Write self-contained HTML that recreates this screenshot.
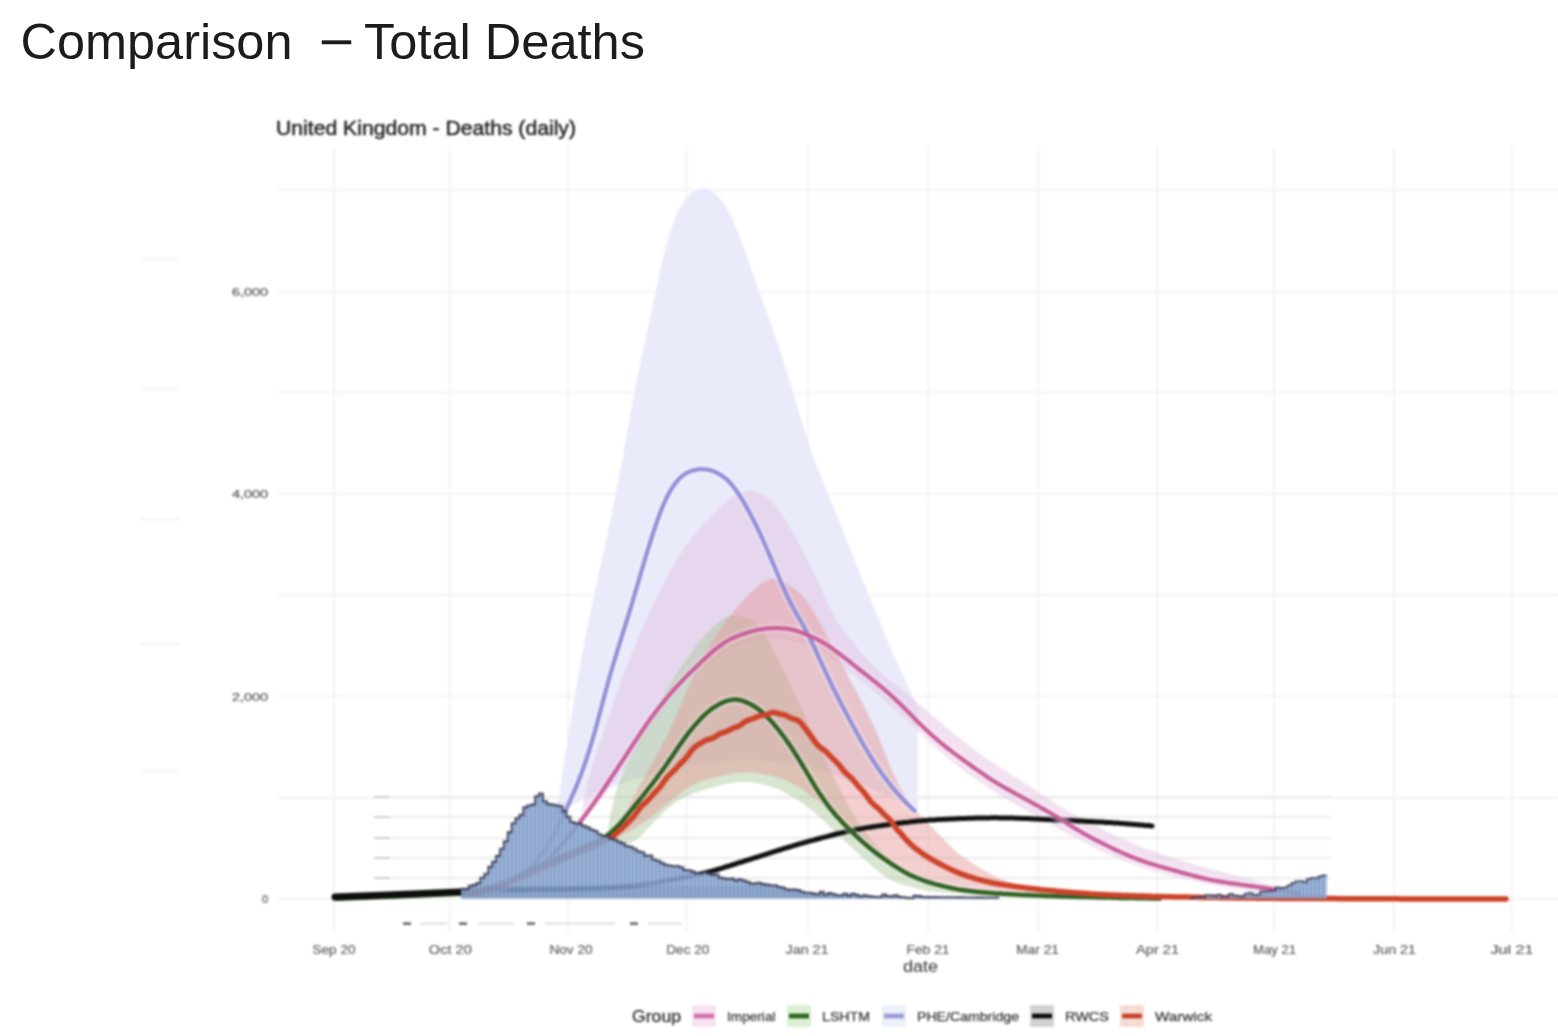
<!DOCTYPE html>
<html><head><meta charset="utf-8"><title>Comparison - Total Deaths</title>
<style>
html,body{margin:0;padding:0;background:#fff;}
body{width:1558px;height:1036px;overflow:hidden;position:relative;}
svg{position:absolute;left:0;top:0;}
svg.c{filter:blur(0.8px);}
svg text{font-family:"Liberation Sans",Arial,sans-serif;}
</style></head><body>
<svg class="c" width="1558" height="1036" viewBox="0 0 1558 1036">
<line x1="334.0" y1="146" x2="334.0" y2="933" stroke="#f3f3f3" stroke-width="2"/>
<line x1="449.5" y1="146" x2="449.5" y2="933" stroke="#f3f3f3" stroke-width="2"/>
<line x1="568.0" y1="146" x2="568.0" y2="933" stroke="#f3f3f3" stroke-width="2"/>
<line x1="686.5" y1="146" x2="686.5" y2="933" stroke="#f3f3f3" stroke-width="2"/>
<line x1="808.0" y1="146" x2="808.0" y2="933" stroke="#f3f3f3" stroke-width="2"/>
<line x1="928.5" y1="146" x2="928.5" y2="933" stroke="#f3f3f3" stroke-width="2"/>
<line x1="1038.5" y1="146" x2="1038.5" y2="933" stroke="#f3f3f3" stroke-width="2"/>
<line x1="1157.0" y1="146" x2="1157.0" y2="933" stroke="#f3f3f3" stroke-width="2"/>
<line x1="1274.0" y1="146" x2="1274.0" y2="933" stroke="#f3f3f3" stroke-width="2"/>
<line x1="1394.0" y1="146" x2="1394.0" y2="933" stroke="#f3f3f3" stroke-width="2"/>
<line x1="1511.5" y1="146" x2="1511.5" y2="933" stroke="#f3f3f3" stroke-width="2"/>
<line x1="278" y1="899.0" x2="1558" y2="899.0" stroke="#f3f3f3" stroke-width="2"/>
<line x1="278" y1="797.8" x2="1558" y2="797.8" stroke="#f3f3f3" stroke-width="2"/>
<line x1="278" y1="696.5" x2="1558" y2="696.5" stroke="#f3f3f3" stroke-width="2"/>
<line x1="278" y1="595.2" x2="1558" y2="595.2" stroke="#f3f3f3" stroke-width="2"/>
<line x1="278" y1="494.0" x2="1558" y2="494.0" stroke="#f3f3f3" stroke-width="2"/>
<line x1="278" y1="392.8" x2="1558" y2="392.8" stroke="#f3f3f3" stroke-width="2"/>
<line x1="278" y1="291.5" x2="1558" y2="291.5" stroke="#f3f3f3" stroke-width="2"/>
<line x1="278" y1="190.2" x2="1558" y2="190.2" stroke="#f3f3f3" stroke-width="2"/>
<rect x="140" y="257" width="40" height="4" fill="#f9f9f9"/>
<rect x="140" y="387" width="40" height="4" fill="#f9f9f9"/>
<rect x="140" y="517" width="40" height="4" fill="#f9f9f9"/>
<rect x="140" y="642" width="40" height="4" fill="#f9f9f9"/>
<rect x="140" y="769" width="40" height="4" fill="#f9f9f9"/>
<line x1="391" y1="797" x2="1331" y2="797" stroke="#e4e4e4" stroke-width="1.4"/>
<rect x="374" y="796.0" width="16" height="2" fill="#cfcfcf"/>
<line x1="391" y1="817" x2="1331" y2="817" stroke="#e4e4e4" stroke-width="1.4"/>
<rect x="374" y="816.0" width="16" height="2" fill="#cfcfcf"/>
<line x1="391" y1="838" x2="1331" y2="838" stroke="#e4e4e4" stroke-width="1.4"/>
<rect x="374" y="837.0" width="16" height="2" fill="#cfcfcf"/>
<line x1="391" y1="858" x2="1331" y2="858" stroke="#e4e4e4" stroke-width="1.4"/>
<rect x="374" y="857.0" width="16" height="2" fill="#cfcfcf"/>
<line x1="391" y1="878" x2="1331" y2="878" stroke="#e4e4e4" stroke-width="1.4"/>
<rect x="374" y="877.0" width="16" height="2" fill="#cfcfcf"/>
<path d="M556.0,815.0 L558.0,801.9 L560.0,788.9 L562.0,775.9 L564.0,762.9 L566.0,750.1 L568.0,737.4 L570.0,724.9 L572.0,712.6 L574.0,700.6 L576.0,688.8 L578.0,677.3 L580.0,666.2 L582.0,655.4 L584.0,644.8 L586.0,634.5 L588.0,624.5 L590.0,614.6 L592.0,604.9 L594.0,595.4 L596.0,585.9 L598.0,576.6 L600.0,567.4 L602.0,558.3 L604.0,549.3 L606.0,540.3 L608.0,531.2 L610.0,522.1 L612.0,512.7 L614.0,503.1 L616.0,493.2 L618.0,482.9 L620.0,472.2 L622.0,461.2 L624.0,450.0 L626.0,438.7 L628.0,427.4 L630.0,416.2 L632.0,405.2 L634.0,394.6 L636.0,384.3 L638.0,374.3 L640.0,364.6 L642.0,355.1 L644.0,345.7 L646.0,336.5 L648.0,327.2 L650.0,318.0 L652.0,308.7 L654.0,299.4 L656.0,290.2 L658.0,281.0 L660.0,271.9 L662.0,263.1 L664.0,254.6 L666.0,246.6 L668.0,239.2 L670.0,232.3 L672.0,226.2 L674.0,220.6 L676.0,215.7 L678.0,211.4 L680.0,207.6 L682.0,204.2 L684.0,201.2 L686.0,198.6 L688.0,196.2 L690.0,194.2 L692.0,192.4 L694.0,190.9 L696.0,189.7 L698.0,188.8 L700.0,188.2 L702.0,187.9 L704.0,187.9 L706.0,188.3 L708.0,188.9 L710.0,189.9 L712.0,191.0 L714.0,192.5 L716.0,194.2 L718.0,196.1 L720.0,198.3 L722.0,200.8 L724.0,203.7 L726.0,206.8 L728.0,210.3 L730.0,214.1 L732.0,218.2 L734.0,222.7 L736.0,227.3 L738.0,232.3 L740.0,237.4 L742.0,242.7 L744.0,248.2 L746.0,253.8 L748.0,259.6 L750.0,265.3 L752.0,271.1 L754.0,276.8 L756.0,282.5 L758.0,288.2 L760.0,293.8 L762.0,299.3 L764.0,304.8 L766.0,310.2 L768.0,315.8 L770.0,321.3 L772.0,326.9 L774.0,332.7 L776.0,338.5 L778.0,344.4 L780.0,350.5 L782.0,356.6 L784.0,362.9 L786.0,369.2 L788.0,375.7 L790.0,382.2 L792.0,388.9 L794.0,395.6 L796.0,402.3 L798.0,409.1 L800.0,415.8 L802.0,422.4 L804.0,428.8 L806.0,435.1 L808.0,441.2 L810.0,447.2 L812.0,452.9 L814.0,458.4 L816.0,463.7 L818.0,468.9 L820.0,474.0 L822.0,479.0 L824.0,484.0 L826.0,488.9 L828.0,493.8 L830.0,498.6 L832.0,503.5 L834.0,508.4 L836.0,513.2 L838.0,518.1 L840.0,523.1 L842.0,528.0 L844.0,533.0 L846.0,538.1 L848.0,543.1 L850.0,548.2 L852.0,553.3 L854.0,558.4 L856.0,563.4 L858.0,568.4 L860.0,573.4 L862.0,578.3 L864.0,583.2 L866.0,588.1 L868.0,592.9 L870.0,597.8 L872.0,602.6 L874.0,607.5 L876.0,612.4 L878.0,617.2 L880.0,622.1 L882.0,627.0 L884.0,631.9 L886.0,636.7 L888.0,641.4 L890.0,646.1 L892.0,650.7 L894.0,655.3 L896.0,659.7 L898.0,664.1 L900.0,668.5 L902.0,672.8 L904.0,677.2 L906.0,681.5 L908.0,685.9 L910.0,690.3 L912.0,694.7 L914.0,699.1 L916.0,703.5 L918.0,708.0 L918.0,812.0 L916.0,810.9 L914.0,809.8 L912.0,808.7 L910.0,807.5 L908.0,806.5 L906.0,805.4 L904.0,804.3 L902.0,803.2 L900.0,802.2 L898.0,801.1 L896.0,800.1 L894.0,799.1 L892.0,798.1 L890.0,797.1 L888.0,796.1 L886.0,795.2 L884.0,794.2 L882.0,793.3 L880.0,792.4 L878.0,791.5 L876.0,790.6 L874.0,789.7 L872.0,788.9 L870.0,788.0 L868.0,787.2 L866.0,786.4 L864.0,785.6 L862.0,784.8 L860.0,784.0 L858.0,783.3 L856.0,782.5 L854.0,781.8 L852.0,781.1 L850.0,780.3 L848.0,779.6 L846.0,778.9 L844.0,778.2 L842.0,777.5 L840.0,776.8 L838.0,776.1 L836.0,775.4 L834.0,774.8 L832.0,774.1 L830.0,773.5 L828.0,772.8 L826.0,772.2 L824.0,771.6 L822.0,771.1 L820.0,770.5 L818.0,770.0 L816.0,769.5 L814.0,769.0 L812.0,768.5 L810.0,768.0 L808.0,767.6 L806.0,767.2 L804.0,766.8 L802.0,766.4 L800.0,766.1 L798.0,765.7 L796.0,765.4 L794.0,765.1 L792.0,764.8 L790.0,764.5 L788.0,764.1 L786.0,763.9 L784.0,763.6 L782.0,763.3 L780.0,763.0 L778.0,762.7 L776.0,762.5 L774.0,762.2 L772.0,762.0 L770.0,761.7 L768.0,761.5 L766.0,761.3 L764.0,761.1 L762.0,760.9 L760.0,760.8 L758.0,760.6 L756.0,760.5 L754.0,760.4 L752.0,760.3 L750.0,760.2 L748.0,760.2 L746.0,760.1 L744.0,760.1 L742.0,760.1 L740.0,760.2 L738.0,760.2 L736.0,760.3 L734.0,760.4 L732.0,760.5 L730.0,760.7 L728.0,760.8 L726.0,761.0 L724.0,761.2 L722.0,761.4 L720.0,761.6 L718.0,761.8 L716.0,762.0 L714.0,762.2 L712.0,762.5 L710.0,762.7 L708.0,763.0 L706.0,763.2 L704.0,763.5 L702.0,763.8 L700.0,764.0 L698.0,764.3 L696.0,764.6 L694.0,764.9 L692.0,765.3 L690.0,765.6 L688.0,766.0 L686.0,766.4 L684.0,766.7 L682.0,767.2 L680.0,767.6 L678.0,768.0 L676.0,768.5 L674.0,768.9 L672.0,769.4 L670.0,769.9 L668.0,770.3 L666.0,770.8 L664.0,771.3 L662.0,771.9 L660.0,772.4 L658.0,772.9 L656.0,773.4 L654.0,774.0 L652.0,774.5 L650.0,775.0 L648.0,775.6 L646.0,776.1 L644.0,776.7 L642.0,777.3 L640.0,777.9 L638.0,778.5 L636.0,779.1 L634.0,779.7 L632.0,780.3 L630.0,781.0 L628.0,781.6 L626.0,782.3 L624.0,783.0 L622.0,783.7 L620.0,784.4 L618.0,785.1 L616.0,785.8 L614.0,786.6 L612.0,787.3 L610.0,788.1 L608.0,788.8 L606.0,789.6 L604.0,790.4 L602.0,791.3 L600.0,792.1 L598.0,792.9 L596.0,793.8 L594.0,794.7 L592.0,795.6 L590.0,796.5 L588.0,797.5 L586.0,798.5 L584.0,799.4 L582.0,800.4 L580.0,801.5 L578.0,802.5 L576.0,803.6 L574.0,804.7 L572.0,805.8 L570.0,806.9 L568.0,808.0 L566.0,809.1 L564.0,810.3 L562.0,811.5 L560.0,812.6 L558.0,813.8 L556.0,815.0 Z" fill="#e9ebfa"/>
<path d="M580.0,822.0 L582.0,811.0 L584.0,800.4 L586.0,790.5 L588.0,781.5 L590.0,773.5 L592.0,766.4 L594.0,759.9 L596.0,753.9 L598.0,748.1 L600.0,742.4 L602.0,736.6 L604.0,730.7 L606.0,724.7 L608.0,718.7 L610.0,712.8 L612.0,706.8 L614.0,701.0 L616.0,695.3 L618.0,689.6 L620.0,684.1 L622.0,678.8 L624.0,673.5 L626.0,668.3 L628.0,663.2 L630.0,658.2 L632.0,653.3 L634.0,648.4 L636.0,643.6 L638.0,638.9 L640.0,634.1 L642.0,629.5 L644.0,624.8 L646.0,620.2 L648.0,615.7 L650.0,611.2 L652.0,606.8 L654.0,602.4 L656.0,598.1 L658.0,594.0 L660.0,589.9 L662.0,585.9 L664.0,582.1 L666.0,578.4 L668.0,574.7 L670.0,571.2 L672.0,567.8 L674.0,564.4 L676.0,561.1 L678.0,557.9 L680.0,554.8 L682.0,551.8 L684.0,548.8 L686.0,545.9 L688.0,543.1 L690.0,540.4 L692.0,537.7 L694.0,535.2 L696.0,532.7 L698.0,530.4 L700.0,528.1 L702.0,525.8 L704.0,523.6 L706.0,521.5 L708.0,519.4 L710.0,517.3 L712.0,515.2 L714.0,513.1 L716.0,511.1 L718.0,509.1 L720.0,507.2 L722.0,505.3 L724.0,503.4 L726.0,501.7 L728.0,500.1 L730.0,498.5 L732.0,497.1 L734.0,495.8 L736.0,494.6 L738.0,493.6 L740.0,492.7 L742.0,492.0 L744.0,491.4 L746.0,491.0 L748.0,490.8 L750.0,490.7 L752.0,490.8 L754.0,491.0 L756.0,491.4 L758.0,492.0 L760.0,492.8 L762.0,493.8 L764.0,495.0 L766.0,496.4 L768.0,498.1 L770.0,500.0 L772.0,502.1 L774.0,504.3 L776.0,506.8 L778.0,509.4 L780.0,512.1 L782.0,515.0 L784.0,518.0 L786.0,521.1 L788.0,524.4 L790.0,527.8 L792.0,531.3 L794.0,534.9 L796.0,538.5 L798.0,542.2 L800.0,546.0 L802.0,549.8 L804.0,553.6 L806.0,557.5 L808.0,561.4 L810.0,565.4 L812.0,569.4 L814.0,573.5 L816.0,577.7 L818.0,581.9 L820.0,586.2 L822.0,590.6 L824.0,594.9 L826.0,599.2 L828.0,603.5 L830.0,607.6 L832.0,611.6 L834.0,615.4 L836.0,619.0 L838.0,622.3 L840.0,625.5 L842.0,628.4 L844.0,631.2 L846.0,633.9 L848.0,636.4 L850.0,638.9 L852.0,641.4 L854.0,643.8 L856.0,646.3 L858.0,648.7 L860.0,651.1 L862.0,653.4 L864.0,655.8 L866.0,658.0 L868.0,660.3 L870.0,662.4 L872.0,664.5 L874.0,666.5 L876.0,668.5 L878.0,670.3 L880.0,672.1 L882.0,673.8 L884.0,675.5 L886.0,677.1 L888.0,678.7 L890.0,680.3 L892.0,681.8 L894.0,683.4 L896.0,684.9 L898.0,686.5 L900.0,688.1 L902.0,689.8 L904.0,691.4 L906.0,693.1 L908.0,694.7 L910.0,696.4 L912.0,698.1 L914.0,699.8 L916.0,701.6 L918.0,703.3 L920.0,705.0 L922.0,706.7 L924.0,708.4 L926.0,710.1 L928.0,711.9 L930.0,713.6 L932.0,715.3 L934.0,716.9 L936.0,718.6 L938.0,720.3 L940.0,722.0 L942.0,723.6 L944.0,725.3 L946.0,727.0 L948.0,728.6 L950.0,730.3 L952.0,731.9 L954.0,733.6 L956.0,735.2 L958.0,736.9 L960.0,738.5 L962.0,740.1 L964.0,741.7 L966.0,743.3 L968.0,744.9 L970.0,746.4 L972.0,747.9 L974.0,749.5 L976.0,751.0 L978.0,752.4 L980.0,753.9 L982.0,755.3 L984.0,756.7 L986.0,758.1 L988.0,759.4 L990.0,760.8 L992.0,762.1 L994.0,763.4 L996.0,764.7 L998.0,766.0 L1000.0,767.3 L1002.0,768.6 L1004.0,769.8 L1006.0,771.1 L1008.0,772.4 L1010.0,773.6 L1012.0,774.9 L1014.0,776.2 L1016.0,777.5 L1018.0,778.8 L1020.0,780.0 L1022.0,781.3 L1024.0,782.7 L1026.0,784.0 L1028.0,785.3 L1030.0,786.6 L1032.0,787.9 L1034.0,789.3 L1036.0,790.6 L1038.0,791.9 L1040.0,793.2 L1042.0,794.6 L1044.0,795.9 L1046.0,797.2 L1048.0,798.5 L1050.0,799.7 L1052.0,801.0 L1054.0,802.3 L1056.0,803.5 L1058.0,804.7 L1060.0,805.9 L1062.0,807.1 L1064.0,808.3 L1066.0,809.5 L1068.0,810.7 L1070.0,811.8 L1072.0,813.0 L1074.0,814.1 L1076.0,815.2 L1078.0,816.4 L1080.0,817.5 L1082.0,818.6 L1084.0,819.7 L1086.0,820.7 L1088.0,821.8 L1090.0,822.9 L1092.0,823.9 L1094.0,824.9 L1096.0,825.9 L1098.0,827.0 L1100.0,828.0 L1102.0,828.9 L1104.0,829.9 L1106.0,830.9 L1108.0,831.8 L1110.0,832.8 L1112.0,833.7 L1114.0,834.7 L1116.0,835.6 L1118.0,836.5 L1120.0,837.5 L1122.0,838.4 L1124.0,839.3 L1126.0,840.1 L1128.0,841.0 L1130.0,841.9 L1132.0,842.7 L1134.0,843.6 L1136.0,844.4 L1138.0,845.3 L1140.0,846.1 L1142.0,846.9 L1144.0,847.7 L1146.0,848.4 L1148.0,849.2 L1150.0,849.9 L1152.0,850.7 L1154.0,851.4 L1156.0,852.1 L1158.0,852.8 L1160.0,853.5 L1162.0,854.2 L1164.0,854.9 L1166.0,855.6 L1168.0,856.2 L1170.0,856.9 L1172.0,857.5 L1174.0,858.2 L1176.0,858.8 L1178.0,859.4 L1180.0,860.1 L1182.0,860.7 L1184.0,861.3 L1186.0,861.9 L1188.0,862.5 L1190.0,863.1 L1192.0,863.7 L1194.0,864.2 L1196.0,864.8 L1198.0,865.4 L1200.0,866.0 L1202.0,866.5 L1204.0,867.1 L1206.0,867.7 L1208.0,868.2 L1210.0,868.7 L1212.0,869.3 L1214.0,869.8 L1216.0,870.3 L1218.0,870.9 L1220.0,871.4 L1222.0,871.9 L1224.0,872.4 L1226.0,872.9 L1228.0,873.4 L1230.0,873.9 L1232.0,874.4 L1234.0,874.9 L1236.0,875.4 L1238.0,875.9 L1240.0,876.5 L1242.0,877.0 L1244.0,877.5 L1246.0,878.0 L1248.0,878.5 L1250.0,879.0 L1252.0,879.5 L1254.0,880.0 L1256.0,880.6 L1258.0,881.1 L1260.0,881.6 L1262.0,882.1 L1264.0,882.6 L1266.0,883.2 L1268.0,883.7 L1270.0,884.2 L1272.0,884.7 L1274.0,885.2 L1276.0,885.8 L1278.0,886.3 L1280.0,886.8 L1282.0,887.3 L1284.0,887.8 L1286.0,888.4 L1288.0,888.9 L1290.0,889.4 L1292.0,889.9 L1294.0,890.4 L1296.0,891.0 L1298.0,891.5 L1300.0,892.0 L1300.0,897.0 L1298.0,896.8 L1296.0,896.6 L1294.0,896.4 L1292.0,896.2 L1290.0,895.9 L1288.0,895.7 L1286.0,895.5 L1284.0,895.3 L1282.0,895.0 L1280.0,894.8 L1278.0,894.6 L1276.0,894.3 L1274.0,894.1 L1272.0,893.9 L1270.0,893.6 L1268.0,893.4 L1266.0,893.1 L1264.0,892.9 L1262.0,892.6 L1260.0,892.3 L1258.0,892.1 L1256.0,891.8 L1254.0,891.6 L1252.0,891.3 L1250.0,891.0 L1248.0,890.8 L1246.0,890.5 L1244.0,890.2 L1242.0,889.9 L1240.0,889.6 L1238.0,889.3 L1236.0,889.1 L1234.0,888.8 L1232.0,888.5 L1230.0,888.2 L1228.0,887.8 L1226.0,887.5 L1224.0,887.2 L1222.0,886.9 L1220.0,886.5 L1218.0,886.2 L1216.0,885.9 L1214.0,885.5 L1212.0,885.1 L1210.0,884.8 L1208.0,884.4 L1206.0,884.0 L1204.0,883.6 L1202.0,883.1 L1200.0,882.7 L1198.0,882.3 L1196.0,881.8 L1194.0,881.4 L1192.0,880.9 L1190.0,880.4 L1188.0,879.9 L1186.0,879.5 L1184.0,879.0 L1182.0,878.5 L1180.0,878.0 L1178.0,877.5 L1176.0,877.0 L1174.0,876.5 L1172.0,876.0 L1170.0,875.5 L1168.0,875.0 L1166.0,874.5 L1164.0,873.9 L1162.0,873.4 L1160.0,872.9 L1158.0,872.3 L1156.0,871.8 L1154.0,871.2 L1152.0,870.6 L1150.0,870.0 L1148.0,869.4 L1146.0,868.8 L1144.0,868.2 L1142.0,867.6 L1140.0,866.9 L1138.0,866.2 L1136.0,865.5 L1134.0,864.8 L1132.0,864.1 L1130.0,863.4 L1128.0,862.6 L1126.0,861.8 L1124.0,861.0 L1122.0,860.2 L1120.0,859.4 L1118.0,858.5 L1116.0,857.7 L1114.0,856.8 L1112.0,855.9 L1110.0,855.0 L1108.0,854.1 L1106.0,853.2 L1104.0,852.3 L1102.0,851.3 L1100.0,850.4 L1098.0,849.4 L1096.0,848.4 L1094.0,847.4 L1092.0,846.4 L1090.0,845.4 L1088.0,844.3 L1086.0,843.3 L1084.0,842.3 L1082.0,841.2 L1080.0,840.1 L1078.0,839.1 L1076.0,838.0 L1074.0,836.9 L1072.0,835.8 L1070.0,834.7 L1068.0,833.7 L1066.0,832.6 L1064.0,831.5 L1062.0,830.4 L1060.0,829.3 L1058.0,828.2 L1056.0,827.1 L1054.0,826.0 L1052.0,824.9 L1050.0,823.8 L1048.0,822.7 L1046.0,821.6 L1044.0,820.5 L1042.0,819.4 L1040.0,818.3 L1038.0,817.2 L1036.0,816.1 L1034.0,815.0 L1032.0,813.9 L1030.0,812.8 L1028.0,811.6 L1026.0,810.5 L1024.0,809.3 L1022.0,808.2 L1020.0,807.0 L1018.0,805.9 L1016.0,804.7 L1014.0,803.5 L1012.0,802.3 L1010.0,801.1 L1008.0,799.9 L1006.0,798.7 L1004.0,797.4 L1002.0,796.2 L1000.0,795.0 L998.0,793.7 L996.0,792.4 L994.0,791.1 L992.0,789.8 L990.0,788.5 L988.0,787.2 L986.0,785.9 L984.0,784.6 L982.0,783.2 L980.0,781.9 L978.0,780.5 L976.0,779.1 L974.0,777.8 L972.0,776.4 L970.0,774.9 L968.0,773.5 L966.0,772.1 L964.0,770.6 L962.0,769.1 L960.0,767.6 L958.0,766.1 L956.0,764.6 L954.0,763.0 L952.0,761.5 L950.0,759.8 L948.0,758.2 L946.0,756.6 L944.0,754.9 L942.0,753.1 L940.0,751.4 L938.0,749.6 L936.0,747.8 L934.0,746.0 L932.0,744.1 L930.0,742.2 L928.0,740.3 L926.0,738.4 L924.0,736.5 L922.0,734.6 L920.0,732.7 L918.0,730.8 L916.0,728.9 L914.0,727.0 L912.0,725.1 L910.0,723.2 L908.0,721.4 L906.0,719.5 L904.0,717.7 L902.0,715.9 L900.0,714.1 L898.0,712.3 L896.0,710.5 L894.0,708.7 L892.0,707.0 L890.0,705.2 L888.0,703.4 L886.0,701.7 L884.0,699.9 L882.0,698.2 L880.0,696.4 L878.0,694.7 L876.0,693.0 L874.0,691.3 L872.0,689.6 L870.0,687.9 L868.0,686.2 L866.0,684.6 L864.0,682.9 L862.0,681.3 L860.0,679.7 L858.0,678.2 L856.0,676.6 L854.0,675.1 L852.0,673.5 L850.0,672.0 L848.0,670.5 L846.0,669.0 L844.0,667.5 L842.0,666.0 L840.0,664.4 L838.0,662.9 L836.0,661.5 L834.0,660.0 L832.0,658.6 L830.0,657.1 L828.0,655.8 L826.0,654.5 L824.0,653.2 L822.0,652.0 L820.0,650.9 L818.0,649.8 L816.0,648.8 L814.0,647.9 L812.0,647.1 L810.0,646.3 L808.0,645.5 L806.0,644.9 L804.0,644.2 L802.0,643.6 L800.0,643.0 L798.0,642.4 L796.0,641.9 L794.0,641.4 L792.0,640.9 L790.0,640.4 L788.0,640.0 L786.0,639.6 L784.0,639.3 L782.0,639.0 L780.0,638.8 L778.0,638.6 L776.0,638.4 L774.0,638.4 L772.0,638.3 L770.0,638.4 L768.0,638.5 L766.0,638.7 L764.0,638.9 L762.0,639.2 L760.0,639.5 L758.0,640.0 L756.0,640.4 L754.0,640.9 L752.0,641.5 L750.0,642.0 L748.0,642.7 L746.0,643.3 L744.0,644.0 L742.0,644.7 L740.0,645.4 L738.0,646.2 L736.0,647.0 L734.0,647.9 L732.0,648.8 L730.0,649.7 L728.0,650.8 L726.0,651.9 L724.0,653.1 L722.0,654.4 L720.0,655.7 L718.0,657.2 L716.0,658.7 L714.0,660.3 L712.0,661.9 L710.0,663.6 L708.0,665.3 L706.0,667.1 L704.0,668.9 L702.0,670.7 L700.0,672.5 L698.0,674.4 L696.0,676.2 L694.0,678.1 L692.0,680.0 L690.0,682.0 L688.0,684.0 L686.0,686.0 L684.0,688.1 L682.0,690.2 L680.0,692.4 L678.0,694.6 L676.0,696.8 L674.0,699.1 L672.0,701.4 L670.0,703.8 L668.0,706.2 L666.0,708.6 L664.0,711.1 L662.0,713.5 L660.0,716.1 L658.0,718.7 L656.0,721.3 L654.0,724.0 L652.0,726.8 L650.0,729.6 L648.0,732.5 L646.0,735.4 L644.0,738.4 L642.0,741.4 L640.0,744.5 L638.0,747.6 L636.0,750.7 L634.0,753.8 L632.0,756.9 L630.0,760.0 L628.0,763.0 L626.0,766.0 L624.0,768.9 L622.0,771.8 L620.0,774.6 L618.0,777.3 L616.0,780.0 L614.0,782.7 L612.0,785.2 L610.0,787.8 L608.0,790.3 L606.0,792.8 L604.0,795.2 L602.0,797.6 L600.0,800.0 L598.0,802.3 L596.0,804.6 L594.0,806.9 L592.0,809.1 L590.0,811.3 L588.0,813.5 L586.0,815.7 L584.0,817.8 L582.0,819.9 L580.0,822.0 Z" fill="#e2bfe0" fill-opacity="0.45"/>
<path d="M606.0,838.0 L608.0,827.3 L610.0,817.1 L612.0,807.6 L614.0,799.1 L616.0,791.7 L618.0,785.3 L620.0,779.8 L622.0,775.0 L624.0,770.6 L626.0,766.5 L628.0,762.4 L630.0,758.4 L632.0,754.3 L634.0,750.2 L636.0,746.1 L638.0,742.0 L640.0,737.9 L642.0,733.9 L644.0,729.9 L646.0,726.0 L648.0,722.1 L650.0,718.3 L652.0,714.6 L654.0,711.0 L656.0,707.4 L658.0,703.9 L660.0,700.4 L662.0,697.1 L664.0,693.8 L666.0,690.5 L668.0,687.3 L670.0,684.2 L672.0,681.1 L674.0,678.0 L676.0,675.0 L678.0,672.0 L680.0,669.0 L682.0,666.1 L684.0,663.1 L686.0,660.2 L688.0,657.3 L690.0,654.4 L692.0,651.6 L694.0,648.8 L696.0,646.1 L698.0,643.5 L700.0,641.0 L702.0,638.6 L704.0,636.3 L706.0,634.1 L708.0,632.0 L710.0,630.0 L712.0,628.1 L714.0,626.2 L716.0,624.4 L718.0,622.8 L720.0,621.2 L722.0,619.8 L724.0,618.6 L726.0,617.5 L728.0,616.7 L730.0,616.1 L732.0,615.6 L734.0,615.4 L736.0,615.4 L738.0,615.6 L740.0,615.9 L742.0,616.4 L744.0,616.9 L746.0,617.7 L748.0,618.5 L750.0,619.5 L752.0,620.6 L754.0,622.0 L756.0,623.6 L758.0,625.5 L760.0,627.7 L762.0,630.2 L764.0,633.1 L766.0,636.2 L768.0,639.6 L770.0,643.2 L772.0,647.0 L774.0,650.8 L776.0,654.8 L778.0,658.8 L780.0,662.9 L782.0,666.9 L784.0,671.1 L786.0,675.2 L788.0,679.5 L790.0,683.7 L792.0,688.0 L794.0,692.4 L796.0,696.7 L798.0,701.1 L800.0,705.5 L802.0,709.9 L804.0,714.3 L806.0,718.6 L808.0,723.0 L810.0,727.4 L812.0,731.7 L814.0,736.1 L816.0,740.4 L818.0,744.7 L820.0,749.0 L822.0,753.2 L824.0,757.5 L826.0,761.7 L828.0,765.8 L830.0,769.9 L832.0,774.0 L834.0,778.0 L836.0,782.0 L838.0,785.9 L840.0,789.7 L842.0,793.5 L844.0,797.3 L846.0,801.0 L848.0,804.6 L850.0,808.1 L852.0,811.6 L854.0,815.0 L856.0,818.2 L858.0,821.4 L860.0,824.5 L862.0,827.4 L864.0,830.3 L866.0,833.1 L868.0,835.7 L870.0,838.3 L872.0,840.7 L874.0,843.1 L876.0,845.3 L878.0,847.5 L880.0,849.5 L882.0,851.5 L884.0,853.3 L886.0,855.1 L888.0,856.8 L890.0,858.5 L892.0,860.1 L894.0,861.6 L896.0,863.1 L898.0,864.5 L900.0,865.8 L902.0,867.1 L904.0,868.4 L906.0,869.6 L908.0,870.7 L910.0,871.8 L912.0,872.8 L914.0,873.8 L916.0,874.8 L918.0,875.7 L920.0,876.6 L922.0,877.5 L924.0,878.4 L926.0,879.2 L928.0,880.0 L930.0,880.7 L932.0,881.5 L934.0,882.2 L936.0,882.9 L938.0,883.5 L940.0,884.2 L942.0,884.8 L944.0,885.3 L946.0,885.9 L948.0,886.4 L950.0,886.9 L952.0,887.4 L954.0,887.8 L956.0,888.3 L958.0,888.7 L960.0,889.1 L962.0,889.6 L964.0,890.0 L966.0,890.3 L968.0,890.7 L970.0,891.1 L972.0,891.4 L974.0,891.8 L976.0,892.1 L978.0,892.4 L980.0,892.7 L982.0,893.0 L984.0,893.3 L986.0,893.6 L988.0,893.8 L990.0,894.0 L992.0,894.2 L994.0,894.4 L996.0,894.6 L998.0,894.8 L1000.0,894.9 L1002.0,895.1 L1004.0,895.2 L1006.0,895.4 L1008.0,895.5 L1010.0,895.6 L1012.0,895.7 L1014.0,895.8 L1016.0,896.0 L1018.0,896.1 L1020.0,896.2 L1022.0,896.3 L1024.0,896.4 L1026.0,896.5 L1028.0,896.6 L1030.0,896.7 L1032.0,896.8 L1034.0,896.9 L1036.0,897.0 L1038.0,897.0 L1040.0,897.1 L1042.0,897.2 L1044.0,897.3 L1046.0,897.3 L1048.0,897.4 L1050.0,897.5 L1052.0,897.5 L1054.0,897.6 L1056.0,897.7 L1058.0,897.7 L1060.0,897.8 L1062.0,897.8 L1064.0,897.8 L1066.0,897.9 L1068.0,897.9 L1070.0,897.9 L1072.0,897.9 L1074.0,898.0 L1076.0,898.0 L1078.0,898.0 L1080.0,898.0 L1080.0,899.0 L1078.0,899.0 L1076.0,899.0 L1074.0,899.0 L1072.0,899.0 L1070.0,898.9 L1068.0,898.9 L1066.0,898.9 L1064.0,898.9 L1062.0,898.8 L1060.0,898.8 L1058.0,898.8 L1056.0,898.8 L1054.0,898.7 L1052.0,898.7 L1050.0,898.6 L1048.0,898.6 L1046.0,898.5 L1044.0,898.5 L1042.0,898.4 L1040.0,898.4 L1038.0,898.3 L1036.0,898.3 L1034.0,898.2 L1032.0,898.1 L1030.0,898.1 L1028.0,898.0 L1026.0,898.0 L1024.0,897.9 L1022.0,897.8 L1020.0,897.7 L1018.0,897.7 L1016.0,897.6 L1014.0,897.5 L1012.0,897.5 L1010.0,897.4 L1008.0,897.3 L1006.0,897.2 L1004.0,897.1 L1002.0,897.1 L1000.0,897.0 L998.0,896.9 L996.0,896.8 L994.0,896.7 L992.0,896.6 L990.0,896.4 L988.0,896.3 L986.0,896.2 L984.0,896.1 L982.0,895.9 L980.0,895.8 L978.0,895.6 L976.0,895.5 L974.0,895.3 L972.0,895.2 L970.0,895.0 L968.0,894.8 L966.0,894.7 L964.0,894.5 L962.0,894.3 L960.0,894.2 L958.0,894.0 L956.0,893.8 L954.0,893.7 L952.0,893.5 L950.0,893.3 L948.0,893.1 L946.0,892.9 L944.0,892.7 L942.0,892.5 L940.0,892.2 L938.0,892.0 L936.0,891.7 L934.0,891.5 L932.0,891.2 L930.0,890.9 L928.0,890.6 L926.0,890.3 L924.0,889.9 L922.0,889.5 L920.0,889.1 L918.0,888.7 L916.0,888.3 L914.0,887.8 L912.0,887.3 L910.0,886.8 L908.0,886.3 L906.0,885.7 L904.0,885.1 L902.0,884.4 L900.0,883.7 L898.0,883.0 L896.0,882.2 L894.0,881.3 L892.0,880.4 L890.0,879.4 L888.0,878.3 L886.0,877.0 L884.0,875.7 L882.0,874.3 L880.0,872.8 L878.0,871.3 L876.0,869.6 L874.0,867.9 L872.0,866.1 L870.0,864.4 L868.0,862.6 L866.0,860.8 L864.0,858.9 L862.0,857.1 L860.0,855.3 L858.0,853.4 L856.0,851.6 L854.0,849.7 L852.0,847.8 L850.0,846.0 L848.0,844.1 L846.0,842.2 L844.0,840.3 L842.0,838.4 L840.0,836.5 L838.0,834.6 L836.0,832.7 L834.0,830.8 L832.0,828.9 L830.0,827.0 L828.0,825.0 L826.0,823.1 L824.0,821.2 L822.0,819.3 L820.0,817.4 L818.0,815.6 L816.0,813.8 L814.0,812.0 L812.0,810.4 L810.0,808.8 L808.0,807.3 L806.0,805.8 L804.0,804.4 L802.0,803.0 L800.0,801.7 L798.0,800.4 L796.0,799.1 L794.0,797.9 L792.0,796.7 L790.0,795.6 L788.0,794.4 L786.0,793.3 L784.0,792.3 L782.0,791.2 L780.0,790.3 L778.0,789.3 L776.0,788.5 L774.0,787.7 L772.0,787.0 L770.0,786.3 L768.0,785.7 L766.0,785.2 L764.0,784.6 L762.0,784.2 L760.0,783.7 L758.0,783.4 L756.0,783.0 L754.0,782.7 L752.0,782.4 L750.0,782.2 L748.0,782.1 L746.0,782.0 L744.0,781.9 L742.0,782.0 L740.0,782.0 L738.0,782.2 L736.0,782.4 L734.0,782.6 L732.0,782.9 L730.0,783.3 L728.0,783.7 L726.0,784.1 L724.0,784.5 L722.0,785.0 L720.0,785.5 L718.0,786.0 L716.0,786.5 L714.0,787.0 L712.0,787.5 L710.0,788.1 L708.0,788.6 L706.0,789.2 L704.0,789.8 L702.0,790.4 L700.0,791.1 L698.0,791.8 L696.0,792.5 L694.0,793.2 L692.0,794.0 L690.0,794.9 L688.0,795.7 L686.0,796.6 L684.0,797.6 L682.0,798.6 L680.0,799.7 L678.0,800.9 L676.0,802.2 L674.0,803.6 L672.0,805.1 L670.0,806.7 L668.0,808.4 L666.0,810.2 L664.0,812.1 L662.0,814.0 L660.0,816.0 L658.0,818.0 L656.0,820.0 L654.0,822.1 L652.0,824.2 L650.0,826.3 L648.0,828.4 L646.0,830.5 L644.0,832.6 L642.0,834.6 L640.0,836.6 L638.0,838.4 L636.0,839.9 L634.0,841.3 L632.0,842.4 L630.0,843.2 L628.0,843.8 L626.0,844.1 L624.0,844.3 L622.0,844.2 L620.0,843.9 L618.0,843.5 L616.0,842.9 L614.0,842.1 L612.0,841.2 L610.0,840.2 L608.0,839.1 L606.0,838.0 Z" fill="#a9c596" fill-opacity="0.45"/>
<path d="M610.0,840.0 L612.0,836.3 L614.0,832.7 L616.0,829.0 L618.0,825.3 L620.0,821.7 L622.0,818.0 L624.0,814.3 L626.0,810.7 L628.0,807.0 L630.0,803.3 L632.0,799.7 L634.0,796.0 L636.0,792.4 L638.0,788.7 L640.0,785.1 L642.0,781.5 L644.0,777.9 L646.0,774.3 L648.0,770.7 L650.0,767.1 L652.0,763.5 L654.0,760.0 L656.0,756.3 L658.0,752.7 L660.0,749.0 L662.0,745.2 L664.0,741.4 L666.0,737.4 L668.0,733.4 L670.0,729.3 L672.0,725.0 L674.0,720.6 L676.0,716.1 L678.0,711.5 L680.0,706.9 L682.0,702.2 L684.0,697.5 L686.0,692.8 L688.0,688.2 L690.0,683.7 L692.0,679.3 L694.0,675.0 L696.0,670.8 L698.0,666.8 L700.0,662.9 L702.0,659.1 L704.0,655.5 L706.0,651.9 L708.0,648.5 L710.0,645.1 L712.0,641.8 L714.0,638.6 L716.0,635.5 L718.0,632.4 L720.0,629.5 L722.0,626.6 L724.0,623.8 L726.0,621.0 L728.0,618.4 L730.0,615.8 L732.0,613.3 L734.0,610.9 L736.0,608.5 L738.0,606.2 L740.0,604.0 L742.0,601.8 L744.0,599.7 L746.0,597.6 L748.0,595.6 L750.0,593.6 L752.0,591.6 L754.0,589.7 L756.0,587.9 L758.0,586.1 L760.0,584.5 L762.0,583.1 L764.0,581.9 L766.0,580.9 L768.0,580.1 L770.0,579.6 L772.0,579.3 L774.0,579.3 L776.0,579.5 L778.0,579.9 L780.0,580.5 L782.0,581.2 L784.0,582.1 L786.0,583.2 L788.0,584.3 L790.0,585.6 L792.0,587.0 L794.0,588.4 L796.0,590.0 L798.0,591.7 L800.0,593.6 L802.0,595.6 L804.0,597.8 L806.0,600.3 L808.0,603.0 L810.0,605.9 L812.0,609.0 L814.0,612.3 L816.0,615.8 L818.0,619.3 L820.0,623.0 L822.0,626.7 L824.0,630.4 L826.0,634.2 L828.0,637.9 L830.0,641.7 L832.0,645.4 L834.0,649.2 L836.0,653.0 L838.0,656.8 L840.0,660.6 L842.0,664.5 L844.0,668.3 L846.0,672.1 L848.0,675.9 L850.0,679.7 L852.0,683.5 L854.0,687.3 L856.0,691.0 L858.0,694.8 L860.0,698.5 L862.0,702.3 L864.0,706.2 L866.0,710.0 L868.0,714.0 L870.0,718.1 L872.0,722.3 L874.0,726.6 L876.0,731.2 L878.0,735.8 L880.0,740.7 L882.0,745.6 L884.0,750.7 L886.0,755.7 L888.0,760.8 L890.0,765.7 L892.0,770.5 L894.0,775.0 L896.0,779.3 L898.0,783.3 L900.0,787.1 L902.0,790.5 L904.0,793.8 L906.0,796.8 L908.0,799.7 L910.0,802.5 L912.0,805.1 L914.0,807.6 L916.0,810.0 L918.0,812.4 L920.0,814.7 L922.0,816.9 L924.0,819.0 L926.0,821.1 L928.0,823.2 L930.0,825.2 L932.0,827.2 L934.0,829.2 L936.0,831.2 L938.0,833.2 L940.0,835.3 L942.0,837.4 L944.0,839.5 L946.0,841.6 L948.0,843.6 L950.0,845.7 L952.0,847.6 L954.0,849.5 L956.0,851.3 L958.0,853.0 L960.0,854.6 L962.0,856.2 L964.0,857.7 L966.0,859.1 L968.0,860.4 L970.0,861.8 L972.0,863.0 L974.0,864.3 L976.0,865.5 L978.0,866.8 L980.0,868.0 L982.0,869.1 L984.0,870.3 L986.0,871.4 L988.0,872.6 L990.0,873.7 L992.0,874.7 L994.0,875.7 L996.0,876.7 L998.0,877.6 L1000.0,878.5 L1002.0,879.4 L1004.0,880.2 L1006.0,880.9 L1008.0,881.6 L1010.0,882.3 L1012.0,883.0 L1014.0,883.6 L1016.0,884.2 L1018.0,884.8 L1020.0,885.4 L1022.0,885.9 L1024.0,886.4 L1026.0,887.0 L1028.0,887.4 L1030.0,887.9 L1032.0,888.3 L1034.0,888.8 L1036.0,889.2 L1038.0,889.6 L1040.0,889.9 L1042.0,890.3 L1044.0,890.6 L1046.0,890.9 L1048.0,891.2 L1050.0,891.5 L1052.0,891.8 L1054.0,892.1 L1056.0,892.4 L1058.0,892.6 L1060.0,892.9 L1062.0,893.1 L1064.0,893.4 L1066.0,893.6 L1068.0,893.8 L1070.0,894.0 L1072.0,894.2 L1074.0,894.4 L1076.0,894.6 L1078.0,894.8 L1080.0,895.0 L1082.0,895.1 L1084.0,895.3 L1086.0,895.5 L1088.0,895.6 L1090.0,895.8 L1092.0,895.9 L1094.0,896.1 L1096.0,896.2 L1098.0,896.4 L1100.0,896.5 L1102.0,896.6 L1104.0,896.7 L1106.0,896.8 L1108.0,897.0 L1110.0,897.1 L1112.0,897.2 L1114.0,897.2 L1116.0,897.3 L1118.0,897.4 L1120.0,897.5 L1122.0,897.5 L1124.0,897.6 L1126.0,897.7 L1128.0,897.7 L1130.0,897.8 L1132.0,897.9 L1134.0,897.9 L1136.0,898.0 L1138.0,898.0 L1140.0,898.1 L1142.0,898.1 L1144.0,898.2 L1146.0,898.2 L1148.0,898.3 L1150.0,898.3 L1152.0,898.4 L1154.0,898.4 L1156.0,898.5 L1158.0,898.5 L1160.0,898.5 L1162.0,898.6 L1164.0,898.6 L1166.0,898.7 L1168.0,898.7 L1170.0,898.7 L1172.0,898.8 L1174.0,898.8 L1176.0,898.8 L1178.0,898.8 L1180.0,898.9 L1182.0,898.9 L1184.0,898.9 L1186.0,898.9 L1188.0,898.9 L1190.0,899.0 L1192.0,899.0 L1194.0,899.0 L1196.0,899.0 L1198.0,899.0 L1200.0,899.0 L1200.0,899.0 L1198.0,899.0 L1196.0,899.0 L1194.0,899.0 L1192.0,899.0 L1190.0,899.0 L1188.0,899.0 L1186.0,899.0 L1184.0,899.0 L1182.0,899.0 L1180.0,899.0 L1178.0,898.9 L1176.0,898.9 L1174.0,898.9 L1172.0,898.9 L1170.0,898.9 L1168.0,898.9 L1166.0,898.9 L1164.0,898.9 L1162.0,898.9 L1160.0,898.9 L1158.0,898.8 L1156.0,898.8 L1154.0,898.8 L1152.0,898.8 L1150.0,898.8 L1148.0,898.8 L1146.0,898.7 L1144.0,898.7 L1142.0,898.7 L1140.0,898.7 L1138.0,898.7 L1136.0,898.7 L1134.0,898.6 L1132.0,898.6 L1130.0,898.6 L1128.0,898.6 L1126.0,898.6 L1124.0,898.5 L1122.0,898.5 L1120.0,898.5 L1118.0,898.5 L1116.0,898.4 L1114.0,898.4 L1112.0,898.4 L1110.0,898.3 L1108.0,898.3 L1106.0,898.3 L1104.0,898.2 L1102.0,898.2 L1100.0,898.1 L1098.0,898.1 L1096.0,898.0 L1094.0,898.0 L1092.0,897.9 L1090.0,897.9 L1088.0,897.8 L1086.0,897.8 L1084.0,897.7 L1082.0,897.6 L1080.0,897.6 L1078.0,897.5 L1076.0,897.4 L1074.0,897.4 L1072.0,897.3 L1070.0,897.2 L1068.0,897.1 L1066.0,897.1 L1064.0,897.0 L1062.0,896.9 L1060.0,896.8 L1058.0,896.8 L1056.0,896.7 L1054.0,896.6 L1052.0,896.5 L1050.0,896.4 L1048.0,896.3 L1046.0,896.3 L1044.0,896.2 L1042.0,896.1 L1040.0,896.0 L1038.0,895.9 L1036.0,895.8 L1034.0,895.7 L1032.0,895.6 L1030.0,895.5 L1028.0,895.4 L1026.0,895.3 L1024.0,895.2 L1022.0,895.1 L1020.0,895.0 L1018.0,894.9 L1016.0,894.8 L1014.0,894.7 L1012.0,894.6 L1010.0,894.4 L1008.0,894.3 L1006.0,894.2 L1004.0,894.0 L1002.0,893.9 L1000.0,893.7 L998.0,893.6 L996.0,893.4 L994.0,893.3 L992.0,893.1 L990.0,892.9 L988.0,892.7 L986.0,892.6 L984.0,892.4 L982.0,892.1 L980.0,891.9 L978.0,891.7 L976.0,891.4 L974.0,891.2 L972.0,890.9 L970.0,890.6 L968.0,890.2 L966.0,889.9 L964.0,889.5 L962.0,889.1 L960.0,888.7 L958.0,888.3 L956.0,887.9 L954.0,887.4 L952.0,887.0 L950.0,886.5 L948.0,886.0 L946.0,885.5 L944.0,885.0 L942.0,884.4 L940.0,883.9 L938.0,883.3 L936.0,882.7 L934.0,882.1 L932.0,881.5 L930.0,880.8 L928.0,880.1 L926.0,879.4 L924.0,878.7 L922.0,877.9 L920.0,877.1 L918.0,876.3 L916.0,875.5 L914.0,874.6 L912.0,873.8 L910.0,872.9 L908.0,871.9 L906.0,871.0 L904.0,869.9 L902.0,868.9 L900.0,867.8 L898.0,866.7 L896.0,865.5 L894.0,864.3 L892.0,863.0 L890.0,861.6 L888.0,860.2 L886.0,858.7 L884.0,857.2 L882.0,855.6 L880.0,854.0 L878.0,852.3 L876.0,850.6 L874.0,848.9 L872.0,847.1 L870.0,845.4 L868.0,843.6 L866.0,841.9 L864.0,840.1 L862.0,838.4 L860.0,836.7 L858.0,834.9 L856.0,833.2 L854.0,831.5 L852.0,829.8 L850.0,828.1 L848.0,826.4 L846.0,824.7 L844.0,823.1 L842.0,821.4 L840.0,819.8 L838.0,818.1 L836.0,816.5 L834.0,814.8 L832.0,813.1 L830.0,811.4 L828.0,809.7 L826.0,807.9 L824.0,806.2 L822.0,804.5 L820.0,802.8 L818.0,801.1 L816.0,799.4 L814.0,797.8 L812.0,796.3 L810.0,794.8 L808.0,793.3 L806.0,791.9 L804.0,790.5 L802.0,789.2 L800.0,787.9 L798.0,786.7 L796.0,785.6 L794.0,784.5 L792.0,783.4 L790.0,782.4 L788.0,781.5 L786.0,780.6 L784.0,779.7 L782.0,778.9 L780.0,778.2 L778.0,777.5 L776.0,776.8 L774.0,776.3 L772.0,775.7 L770.0,775.2 L768.0,774.8 L766.0,774.4 L764.0,774.1 L762.0,773.7 L760.0,773.4 L758.0,773.2 L756.0,772.9 L754.0,772.7 L752.0,772.6 L750.0,772.4 L748.0,772.3 L746.0,772.3 L744.0,772.3 L742.0,772.4 L740.0,772.5 L738.0,772.7 L736.0,772.9 L734.0,773.2 L732.0,773.5 L730.0,773.9 L728.0,774.3 L726.0,774.7 L724.0,775.1 L722.0,775.6 L720.0,776.0 L718.0,776.5 L716.0,777.0 L714.0,777.4 L712.0,778.0 L710.0,778.5 L708.0,779.1 L706.0,779.7 L704.0,780.3 L702.0,781.0 L700.0,781.8 L698.0,782.6 L696.0,783.5 L694.0,784.5 L692.0,785.6 L690.0,786.8 L688.0,788.1 L686.0,789.4 L684.0,790.8 L682.0,792.3 L680.0,793.8 L678.0,795.3 L676.0,796.9 L674.0,798.5 L672.0,800.2 L670.0,801.8 L668.0,803.5 L666.0,805.1 L664.0,806.8 L662.0,808.4 L660.0,810.1 L658.0,811.7 L656.0,813.2 L654.0,814.8 L652.0,816.3 L650.0,817.8 L648.0,819.2 L646.0,820.7 L644.0,822.0 L642.0,823.4 L640.0,824.7 L638.0,826.0 L636.0,827.2 L634.0,828.4 L632.0,829.5 L630.0,830.6 L628.0,831.7 L626.0,832.7 L624.0,833.7 L622.0,834.7 L620.0,835.7 L618.0,836.6 L616.0,837.5 L614.0,838.3 L612.0,839.2 L610.0,840.0 Z" fill="#e49494" fill-opacity="0.45"/>
<path d="M336,899 L400,896.5 L470,893.5" fill="none" stroke="#2f6a22" stroke-width="4" stroke-linecap="round"/>
<path d="M335.0,897.0 L337.0,896.9 L339.0,896.9 L341.0,896.8 L343.0,896.7 L345.0,896.6 L347.0,896.6 L349.0,896.5 L351.0,896.4 L353.0,896.3 L355.0,896.3 L357.0,896.2 L359.0,896.1 L361.0,896.0 L363.0,895.9 L365.0,895.9 L367.0,895.8 L369.0,895.7 L371.0,895.6 L373.0,895.6 L375.0,895.5 L377.1,895.4 L379.1,895.3 L381.1,895.2 L383.1,895.2 L385.1,895.1 L387.1,895.0 L389.1,894.9 L391.1,894.9 L393.1,894.8 L395.1,894.7 L397.1,894.6 L399.1,894.5 L401.1,894.5 L403.1,894.4 L405.1,894.3 L407.1,894.2 L409.1,894.1 L411.1,894.1 L413.1,894.0 L415.1,893.9 L417.1,893.8 L419.1,893.7 L421.1,893.7 L423.1,893.6 L425.1,893.5 L427.1,893.4 L429.1,893.3 L431.1,893.2 L433.1,893.2 L435.1,893.1 L437.1,893.0 L439.1,892.9 L441.1,892.8 L443.1,892.7 L445.1,892.7 L447.1,892.6 L449.1,892.5 L451.1,892.4 L453.1,892.3 L455.1,892.2 L457.1,892.1 L459.2,892.0 L461.2,891.9 L463.2,891.8 L465.2,891.7 L467.2,891.6 L469.2,891.5 L471.2,891.4 L473.2,891.3 L475.2,891.2 L477.2,891.0 L479.2,890.9 L481.2,890.8 L483.2,890.7 L485.2,890.6 L487.2,890.5 L489.2,890.4 L491.2,890.3 L493.2,890.2 L495.2,890.2 L497.2,890.1 L499.2,890.1 L501.2,890.0 L503.2,890.0 L505.2,889.9 L507.2,889.9 L509.2,889.9 L511.2,889.8 L513.2,889.8 L515.2,889.8 L517.2,889.8 L519.2,889.7 L521.2,889.7 L523.2,889.7 L525.2,889.7 L527.2,889.7 L529.2,889.6 L531.2,889.6 L533.2,889.6 L535.2,889.6 L537.2,889.6 L539.2,889.6 L541.3,889.5 L543.3,889.5 L545.3,889.5 L547.3,889.5 L549.3,889.4 L551.3,889.4 L553.3,889.4 L555.3,889.4 L557.3,889.3 L559.3,889.3 L561.3,889.3 L563.3,889.2 L565.3,889.2 L567.3,889.1 L569.3,889.1 L571.3,889.0 L573.3,889.0 L575.3,888.9 L577.3,888.9 L579.3,888.8 L581.3,888.8 L583.3,888.7 L585.3,888.6 L587.3,888.6 L589.3,888.5 L591.3,888.4 L593.3,888.3 L595.3,888.3 L597.3,888.2 L599.3,888.1 L601.3,888.0 L603.3,887.9 L605.3,887.8 L607.3,887.7 L609.3,887.6 L611.3,887.5 L613.3,887.4 L615.3,887.3 L617.3,887.2 L619.3,887.1 L621.4,886.9 L623.4,886.8 L625.4,886.6 L627.4,886.5 L629.4,886.3 L631.4,886.1 L633.4,885.9 L635.4,885.7 L637.4,885.4 L639.4,885.2 L641.4,884.9 L643.4,884.6 L645.4,884.3 L647.4,884.0 L649.4,883.7 L651.4,883.4 L653.4,883.1 L655.4,882.8 L657.4,882.5 L659.4,882.1 L661.4,881.8 L663.4,881.4 L665.4,881.1 L667.4,880.7 L669.4,880.3 L671.4,880.0 L673.4,879.6 L675.4,879.2 L677.4,878.8 L679.4,878.4 L681.4,878.0 L683.4,877.5 L685.4,877.1 L687.4,876.7 L689.4,876.3 L691.4,875.9 L693.4,875.5 L695.4,875.1 L697.4,874.6 L699.4,874.2 L701.4,873.7 L703.5,873.3 L705.5,872.8 L707.5,872.3 L709.5,871.8 L711.5,871.2 L713.5,870.7 L715.5,870.1 L717.5,869.5 L719.5,868.9 L721.5,868.3 L723.5,867.7 L725.5,867.0 L727.5,866.4 L729.5,865.8 L731.5,865.1 L733.5,864.5 L735.5,863.9 L737.5,863.2 L739.5,862.6 L741.5,862.0 L743.5,861.4 L745.5,860.7 L747.5,860.1 L749.5,859.5 L751.5,858.9 L753.5,858.2 L755.5,857.6 L757.5,857.0 L759.5,856.3 L761.5,855.7 L763.5,855.1 L765.5,854.4 L767.5,853.8 L769.5,853.2 L771.5,852.5 L773.5,851.9 L775.5,851.2 L777.5,850.6 L779.5,850.0 L781.5,849.4 L783.5,848.7 L785.6,848.1 L787.6,847.5 L789.6,846.9 L791.6,846.3 L793.6,845.7 L795.6,845.1 L797.6,844.5 L799.6,843.9 L801.6,843.4 L803.6,842.8 L805.6,842.2 L807.6,841.7 L809.6,841.1 L811.6,840.6 L813.6,840.1 L815.6,839.5 L817.6,839.0 L819.6,838.5 L821.6,837.9 L823.6,837.4 L825.6,836.9 L827.6,836.4 L829.6,835.8 L831.6,835.3 L833.6,834.8 L835.6,834.3 L837.6,833.8 L839.6,833.3 L841.6,832.9 L843.6,832.4 L845.6,831.9 L847.6,831.5 L849.6,831.0 L851.6,830.6 L853.6,830.2 L855.6,829.8 L857.6,829.4 L859.6,829.0 L861.6,828.6 L863.6,828.3 L865.6,827.9 L867.7,827.6 L869.7,827.3 L871.7,827.0 L873.7,826.7 L875.7,826.4 L877.7,826.1 L879.7,825.8 L881.7,825.5 L883.7,825.2 L885.7,824.9 L887.7,824.7 L889.7,824.4 L891.7,824.1 L893.7,823.9 L895.7,823.6 L897.7,823.3 L899.7,823.1 L901.7,822.9 L903.7,822.6 L905.7,822.4 L907.7,822.2 L909.7,821.9 L911.7,821.7 L913.7,821.5 L915.7,821.3 L917.7,821.1 L919.7,820.9 L921.7,820.8 L923.7,820.6 L925.7,820.4 L927.7,820.3 L929.7,820.1 L931.7,820.0 L933.7,819.9 L935.7,819.8 L937.7,819.6 L939.7,819.5 L941.7,819.4 L943.7,819.3 L945.7,819.2 L947.8,819.2 L949.8,819.1 L951.8,819.0 L953.8,818.9 L955.8,818.8 L957.8,818.7 L959.8,818.6 L961.8,818.6 L963.8,818.5 L965.8,818.4 L967.8,818.3 L969.8,818.3 L971.8,818.2 L973.8,818.2 L975.8,818.1 L977.8,818.1 L979.8,818.0 L981.8,818.0 L983.8,817.9 L985.8,817.9 L987.8,817.9 L989.8,817.9 L991.8,817.8 L993.8,817.8 L995.8,817.8 L997.8,817.8 L999.8,817.9 L1001.8,817.9 L1003.8,817.9 L1005.8,817.9 L1007.8,818.0 L1009.8,818.0 L1011.8,818.1 L1013.8,818.1 L1015.8,818.2 L1017.8,818.3 L1019.8,818.3 L1021.8,818.4 L1023.8,818.5 L1025.8,818.6 L1027.8,818.6 L1029.9,818.7 L1031.9,818.8 L1033.9,818.9 L1035.9,819.0 L1037.9,819.1 L1039.9,819.2 L1041.9,819.3 L1043.9,819.4 L1045.9,819.4 L1047.9,819.5 L1049.9,819.6 L1051.9,819.7 L1053.9,819.8 L1055.9,819.9 L1057.9,820.0 L1059.9,820.1 L1061.9,820.1 L1063.9,820.2 L1065.9,820.3 L1067.9,820.4 L1069.9,820.5 L1071.9,820.6 L1073.9,820.7 L1075.9,820.8 L1077.9,820.9 L1079.9,821.0 L1081.9,821.1 L1083.9,821.2 L1085.9,821.3 L1087.9,821.4 L1089.9,821.5 L1091.9,821.6 L1093.9,821.7 L1095.9,821.8 L1097.9,821.9 L1099.9,822.0 L1101.9,822.1 L1103.9,822.2 L1105.9,822.4 L1107.9,822.5 L1109.9,822.6 L1112.0,822.7 L1114.0,822.9 L1116.0,823.0 L1118.0,823.1 L1120.0,823.3 L1122.0,823.4 L1124.0,823.6 L1126.0,823.7 L1128.0,823.9 L1130.0,824.1 L1132.0,824.2 L1134.0,824.4 L1136.0,824.6 L1138.0,824.7 L1140.0,824.9 L1142.0,825.1 L1144.0,825.3 L1146.0,825.4 L1148.0,825.6 L1150.0,825.8 L1152.0,826.0" fill="none" stroke="#111" stroke-width="5" stroke-linecap="round"/>
<path d="M335,897 L400,894.5 L470,891.5" fill="none" stroke="#0d0f0d" stroke-width="7" stroke-linecap="round"/>
<path d="M470.0,895.0 L472.0,894.8 L474.0,894.5 L476.0,894.3 L478.0,893.9 L480.0,893.6 L482.0,893.2 L484.0,892.7 L486.0,892.3 L488.0,891.7 L490.0,891.1 L492.0,890.5 L494.0,889.9 L496.0,889.2 L498.0,888.5 L500.0,887.7 L502.1,886.9 L504.1,885.9 L506.1,885.0 L508.1,883.9 L510.1,882.8 L512.1,881.6 L514.1,880.3 L516.1,878.9 L518.1,877.5 L520.1,876.0 L522.1,874.4 L524.1,872.8 L526.1,871.1 L528.1,869.3 L530.1,867.4 L532.1,865.5 L534.1,863.4 L536.1,861.2 L538.1,858.9 L540.1,856.4 L542.1,853.8 L544.1,851.0 L546.1,848.0 L548.1,844.8 L550.1,841.4 L552.1,837.8 L554.1,834.0 L556.1,830.0 L558.1,826.0 L560.1,821.8 L562.1,817.6 L564.1,813.4 L566.2,809.1 L568.2,804.8 L570.2,800.4 L572.2,795.9 L574.2,791.3 L576.2,786.6 L578.2,781.7 L580.2,776.5 L582.2,771.2 L584.2,765.6 L586.2,759.8 L588.2,753.6 L590.2,747.2 L592.2,740.6 L594.2,733.6 L596.2,726.5 L598.2,719.1 L600.2,711.6 L602.2,704.1 L604.2,696.6 L606.2,689.2 L608.2,681.9 L610.2,674.8 L612.2,667.9 L614.2,661.2 L616.2,654.6 L618.2,648.1 L620.2,641.6 L622.2,635.2 L624.2,628.8 L626.2,622.3 L628.2,615.8 L630.3,609.1 L632.3,602.4 L634.3,595.7 L636.3,588.9 L638.3,582.0 L640.3,575.2 L642.3,568.4 L644.3,561.7 L646.3,555.0 L648.3,548.4 L650.3,542.0 L652.3,535.7 L654.3,529.5 L656.3,523.6 L658.3,517.9 L660.3,512.5 L662.3,507.4 L664.3,502.8 L666.3,498.4 L668.3,494.5 L670.3,490.9 L672.3,487.7 L674.3,484.7 L676.3,482.1 L678.3,479.8 L680.3,477.7 L682.3,475.9 L684.3,474.4 L686.3,473.2 L688.3,472.1 L690.3,471.3 L692.4,470.6 L694.4,470.1 L696.4,469.7 L698.4,469.4 L700.4,469.2 L702.4,469.2 L704.4,469.3 L706.4,469.5 L708.4,469.8 L710.4,470.3 L712.4,470.9 L714.4,471.7 L716.4,472.6 L718.4,473.6 L720.4,474.7 L722.4,476.1 L724.4,477.6 L726.4,479.2 L728.4,481.1 L730.4,483.2 L732.4,485.5 L734.4,488.1 L736.4,490.8 L738.4,493.7 L740.4,496.8 L742.4,500.0 L744.4,503.4 L746.4,506.9 L748.4,510.5 L750.4,514.2 L752.4,518.1 L754.4,522.0 L756.5,526.1 L758.5,530.4 L760.5,534.7 L762.5,539.1 L764.5,543.6 L766.5,548.1 L768.5,552.7 L770.5,557.4 L772.5,562.1 L774.5,566.8 L776.5,571.5 L778.5,576.3 L780.5,581.0 L782.5,585.6 L784.5,590.1 L786.5,594.5 L788.5,598.7 L790.5,602.7 L792.5,606.5 L794.5,610.2 L796.5,613.7 L798.5,617.2 L800.5,620.7 L802.5,624.2 L804.5,627.8 L806.5,631.5 L808.5,635.4 L810.5,639.5 L812.5,643.7 L814.5,648.0 L816.5,652.3 L818.5,656.8 L820.6,661.2 L822.6,665.6 L824.6,669.9 L826.6,674.2 L828.6,678.4 L830.6,682.6 L832.6,686.8 L834.6,690.8 L836.6,694.8 L838.6,698.8 L840.6,702.7 L842.6,706.5 L844.6,710.3 L846.6,714.1 L848.6,717.8 L850.6,721.5 L852.6,725.2 L854.6,728.9 L856.6,732.5 L858.6,736.1 L860.6,739.7 L862.6,743.2 L864.6,746.6 L866.6,750.0 L868.6,753.4 L870.6,756.6 L872.6,759.8 L874.6,762.9 L876.6,766.0 L878.6,769.0 L880.6,771.9 L882.6,774.7 L884.7,777.4 L886.7,780.1 L888.7,782.7 L890.7,785.2 L892.7,787.7 L894.7,790.1 L896.7,792.4 L898.7,794.7 L900.7,796.9 L902.7,799.1 L904.7,801.2 L906.7,803.2 L908.7,805.2 L910.7,807.2 L912.7,809.1 L914.7,811.0" fill="none" stroke="#fff" stroke-opacity="0.3" stroke-width="9.0" stroke-linecap="round"/>
<path d="M470.0,895.0 L472.0,894.6 L474.0,894.2 L476.0,893.8 L478.0,893.3 L480.0,892.9 L482.0,892.4 L484.0,891.9 L486.0,891.3 L488.0,890.8 L490.0,890.2 L492.0,889.6 L494.0,888.9 L496.0,888.3 L498.0,887.6 L500.0,886.8 L502.0,886.1 L504.0,885.3 L506.0,884.5 L508.0,883.6 L510.0,882.7 L512.0,881.8 L514.0,880.8 L516.0,879.8 L518.0,878.8 L520.0,877.7 L522.0,876.6 L524.0,875.4 L526.0,874.3 L528.0,873.1 L530.0,871.8 L532.0,870.6 L534.0,869.2 L536.0,867.9 L538.0,866.5 L540.0,865.0 L542.0,863.6 L544.0,862.0 L546.0,860.4 L548.0,858.8 L550.0,857.1 L552.0,855.3 L554.0,853.4 L556.0,851.5 L558.0,849.4 L560.0,847.3 L562.0,845.0 L564.0,842.7 L566.0,840.2 L568.0,837.7 L570.0,835.1 L572.0,832.5 L574.0,829.9 L576.0,827.2 L578.0,824.6 L580.0,822.0 L582.0,819.4 L584.0,816.8 L586.0,814.2 L588.0,811.5 L590.0,808.8 L592.0,806.0 L594.0,803.2 L596.0,800.3 L598.0,797.4 L600.0,794.5 L602.0,791.5 L604.0,788.5 L606.0,785.5 L608.0,782.5 L610.0,779.5 L612.0,776.5 L614.0,773.5 L616.0,770.5 L618.0,767.5 L620.0,764.4 L622.0,761.4 L624.0,758.3 L626.0,755.3 L628.0,752.2 L630.0,749.1 L632.0,746.0 L634.0,743.0 L636.0,739.9 L638.0,736.8 L640.0,733.8 L642.0,730.8 L644.0,727.9 L646.0,725.0 L648.0,722.1 L650.0,719.3 L652.0,716.6 L654.0,713.9 L656.0,711.3 L658.0,708.7 L660.0,706.2 L662.0,703.7 L664.0,701.3 L666.0,698.9 L668.0,696.5 L670.0,694.2 L672.0,691.9 L674.0,689.6 L676.0,687.4 L678.0,685.2 L680.0,683.1 L682.0,681.0 L684.0,678.9 L686.0,676.8 L688.0,674.8 L690.0,672.8 L692.0,670.9 L694.0,668.9 L696.0,667.0 L698.0,665.1 L700.0,663.2 L702.0,661.3 L704.0,659.4 L706.0,657.6 L708.0,655.7 L710.0,653.9 L712.0,652.1 L714.0,650.4 L716.0,648.8 L718.0,647.2 L720.0,645.7 L722.0,644.2 L724.0,642.9 L726.0,641.6 L728.0,640.5 L730.0,639.4 L732.0,638.4 L734.0,637.5 L736.0,636.7 L738.0,635.9 L740.0,635.1 L742.0,634.4 L744.0,633.7 L746.0,633.0 L748.0,632.4 L750.0,631.8 L752.0,631.3 L754.0,630.7 L756.0,630.3 L758.0,629.8 L760.0,629.4 L762.0,629.1 L764.0,628.8 L766.0,628.6 L768.0,628.4 L770.0,628.3 L772.0,628.2 L774.0,628.2 L776.0,628.2 L778.0,628.2 L780.0,628.2 L782.0,628.3 L784.0,628.5 L786.0,628.7 L788.0,628.9 L790.0,629.2 L792.0,629.6 L794.0,630.1 L796.0,630.7 L798.0,631.3 L800.0,632.0 L802.0,632.7 L804.0,633.5 L806.0,634.3 L808.0,635.2 L810.0,636.0 L812.0,636.9 L814.0,637.8 L816.0,638.8 L818.0,639.8 L820.0,640.8 L822.0,641.9 L824.0,643.1 L826.0,644.3 L828.0,645.6 L830.0,646.9 L832.0,648.3 L834.0,649.7 L836.0,651.2 L838.0,652.7 L840.0,654.2 L842.0,655.7 L844.0,657.2 L846.0,658.8 L848.0,660.4 L850.0,662.0 L852.0,663.6 L854.0,665.2 L856.0,666.8 L858.0,668.4 L860.0,670.0 L862.0,671.5 L864.0,673.1 L866.0,674.7 L868.0,676.2 L870.0,677.8 L872.0,679.4 L874.0,680.9 L876.0,682.5 L878.0,684.1 L880.0,685.8 L882.0,687.4 L884.0,689.1 L886.0,690.9 L888.0,692.6 L890.0,694.4 L892.0,696.2 L894.0,698.1 L896.0,700.0 L898.0,701.9 L900.0,703.8 L902.0,705.8 L904.0,707.8 L906.0,709.8 L908.0,711.8 L910.0,713.8 L912.0,715.9 L914.0,717.9 L916.0,719.9 L918.0,721.9 L920.0,723.9 L922.0,725.8 L924.0,727.8 L926.0,729.7 L928.0,731.5 L930.0,733.4 L932.0,735.2 L934.0,737.0 L936.0,738.7 L938.0,740.5 L940.0,742.1 L942.0,743.8 L944.0,745.4 L946.0,747.0 L948.0,748.5 L950.0,750.1 L952.0,751.6 L954.0,753.1 L956.0,754.6 L958.0,756.1 L960.0,757.6 L962.0,759.0 L964.0,760.5 L966.0,762.0 L968.0,763.4 L970.0,764.8 L972.0,766.3 L974.0,767.7 L976.0,769.1 L978.0,770.5 L980.0,771.9 L982.0,773.3 L984.0,774.7 L986.0,776.0 L988.0,777.4 L990.0,778.7 L992.0,780.0 L994.0,781.2 L996.0,782.5 L998.0,783.7 L1000.0,784.9 L1002.0,786.0 L1004.0,787.2 L1006.0,788.3 L1008.0,789.4 L1010.0,790.6 L1012.0,791.7 L1014.0,792.8 L1016.0,793.9 L1018.0,795.0 L1020.0,796.1 L1022.0,797.2 L1024.0,798.3 L1026.0,799.4 L1028.0,800.5 L1030.0,801.6 L1032.0,802.7 L1034.0,803.8 L1036.0,804.9 L1038.0,806.0 L1040.0,807.2 L1042.0,808.3 L1044.0,809.4 L1046.0,810.5 L1048.0,811.7 L1050.0,812.8 L1052.0,814.0 L1054.0,815.2 L1056.0,816.4 L1058.0,817.6 L1060.0,818.9 L1062.0,820.1 L1064.0,821.4 L1066.0,822.6 L1068.0,823.9 L1070.0,825.2 L1072.0,826.4 L1074.0,827.7 L1076.0,828.9 L1078.0,830.1 L1080.0,831.3 L1082.0,832.5 L1084.0,833.6 L1086.0,834.8 L1088.0,835.9 L1090.0,837.0 L1092.0,838.0 L1094.0,839.1 L1096.0,840.2 L1098.0,841.2 L1100.0,842.2 L1102.0,843.2 L1104.0,844.2 L1106.0,845.2 L1108.0,846.2 L1110.0,847.1 L1112.0,848.1 L1114.0,849.0 L1116.0,850.0 L1118.0,850.9 L1120.0,851.8 L1122.0,852.7 L1124.0,853.6 L1126.0,854.5 L1128.0,855.3 L1130.0,856.2 L1132.0,857.0 L1134.0,857.8 L1136.0,858.6 L1138.0,859.3 L1140.0,860.1 L1142.0,860.8 L1144.0,861.5 L1146.0,862.2 L1148.0,862.8 L1150.0,863.4 L1152.0,864.1 L1154.0,864.7 L1156.0,865.3 L1158.0,865.9 L1160.0,866.5 L1162.0,867.0 L1164.0,867.6 L1166.0,868.2 L1168.0,868.7 L1170.0,869.3 L1172.0,869.8 L1174.0,870.4 L1176.0,870.9 L1178.0,871.5 L1180.0,872.0 L1182.0,872.6 L1184.0,873.1 L1186.0,873.7 L1188.0,874.2 L1190.0,874.8 L1192.0,875.3 L1194.0,875.9 L1196.0,876.4 L1198.0,876.9 L1200.0,877.4 L1202.0,877.9 L1204.0,878.4 L1206.0,878.8 L1208.0,879.3 L1210.0,879.7 L1212.0,880.1 L1214.0,880.5 L1216.0,880.9 L1218.0,881.2 L1220.0,881.5 L1222.0,881.9 L1224.0,882.2 L1226.0,882.5 L1228.0,882.8 L1230.0,883.1 L1232.0,883.4 L1234.0,883.7 L1236.0,883.9 L1238.0,884.2 L1240.0,884.5 L1242.0,884.8 L1244.0,885.0 L1246.0,885.3 L1248.0,885.6 L1250.0,885.8 L1252.0,886.1 L1254.0,886.4 L1256.0,886.7 L1258.0,887.0 L1260.0,887.3 L1262.0,887.6 L1264.0,887.9 L1266.0,888.2 L1268.0,888.5 L1270.0,888.8 L1272.0,889.2 L1274.0,889.5 L1276.0,889.8 L1278.0,890.2 L1280.0,890.5 L1282.0,890.8 L1284.0,891.2 L1286.0,891.5 L1288.0,891.9 L1290.0,892.2 L1292.0,892.6 L1294.0,892.9 L1296.0,893.3 L1298.0,893.6 L1300.0,894.0" fill="none" stroke="#fff" stroke-opacity="0.3" stroke-width="9.0" stroke-linecap="round"/>
<path d="M470.0,895.0 L472.0,894.8 L474.0,894.5 L476.0,894.3 L478.0,893.9 L480.0,893.6 L482.0,893.2 L484.0,892.7 L486.0,892.3 L488.0,891.7 L490.0,891.1 L492.0,890.5 L494.0,889.9 L496.0,889.2 L498.0,888.5 L500.0,887.7 L502.1,886.9 L504.1,885.9 L506.1,885.0 L508.1,883.9 L510.1,882.8 L512.1,881.6 L514.1,880.3 L516.1,878.9 L518.1,877.5 L520.1,876.0 L522.1,874.4 L524.1,872.8 L526.1,871.1 L528.1,869.3 L530.1,867.4 L532.1,865.5 L534.1,863.4 L536.1,861.2 L538.1,858.9 L540.1,856.4 L542.1,853.8 L544.1,851.0 L546.1,848.0 L548.1,844.8 L550.1,841.4 L552.1,837.8 L554.1,834.0 L556.1,830.0 L558.1,826.0 L560.1,821.8 L562.1,817.6 L564.1,813.4 L566.2,809.1 L568.2,804.8 L570.2,800.4 L572.2,795.9 L574.2,791.3 L576.2,786.6 L578.2,781.7 L580.2,776.5 L582.2,771.2 L584.2,765.6 L586.2,759.8 L588.2,753.6 L590.2,747.2 L592.2,740.6 L594.2,733.6 L596.2,726.5 L598.2,719.1 L600.2,711.6 L602.2,704.1 L604.2,696.6 L606.2,689.2 L608.2,681.9 L610.2,674.8 L612.2,667.9 L614.2,661.2 L616.2,654.6 L618.2,648.1 L620.2,641.6 L622.2,635.2 L624.2,628.8 L626.2,622.3 L628.2,615.8 L630.3,609.1 L632.3,602.4 L634.3,595.7 L636.3,588.9 L638.3,582.0 L640.3,575.2 L642.3,568.4 L644.3,561.7 L646.3,555.0 L648.3,548.4 L650.3,542.0 L652.3,535.7 L654.3,529.5 L656.3,523.6 L658.3,517.9 L660.3,512.5 L662.3,507.4 L664.3,502.8 L666.3,498.4 L668.3,494.5 L670.3,490.9 L672.3,487.7 L674.3,484.7 L676.3,482.1 L678.3,479.8 L680.3,477.7 L682.3,475.9 L684.3,474.4 L686.3,473.2 L688.3,472.1 L690.3,471.3 L692.4,470.6 L694.4,470.1 L696.4,469.7 L698.4,469.4 L700.4,469.2 L702.4,469.2 L704.4,469.3 L706.4,469.5 L708.4,469.8 L710.4,470.3 L712.4,470.9 L714.4,471.7 L716.4,472.6 L718.4,473.6 L720.4,474.7 L722.4,476.1 L724.4,477.6 L726.4,479.2 L728.4,481.1 L730.4,483.2 L732.4,485.5 L734.4,488.1 L736.4,490.8 L738.4,493.7 L740.4,496.8 L742.4,500.0 L744.4,503.4 L746.4,506.9 L748.4,510.5 L750.4,514.2 L752.4,518.1 L754.4,522.0 L756.5,526.1 L758.5,530.4 L760.5,534.7 L762.5,539.1 L764.5,543.6 L766.5,548.1 L768.5,552.7 L770.5,557.4 L772.5,562.1 L774.5,566.8 L776.5,571.5 L778.5,576.3 L780.5,581.0 L782.5,585.6 L784.5,590.1 L786.5,594.5 L788.5,598.7 L790.5,602.7 L792.5,606.5 L794.5,610.2 L796.5,613.7 L798.5,617.2 L800.5,620.7 L802.5,624.2 L804.5,627.8 L806.5,631.5 L808.5,635.4 L810.5,639.5 L812.5,643.7 L814.5,648.0 L816.5,652.3 L818.5,656.8 L820.6,661.2 L822.6,665.6 L824.6,669.9 L826.6,674.2 L828.6,678.4 L830.6,682.6 L832.6,686.8 L834.6,690.8 L836.6,694.8 L838.6,698.8 L840.6,702.7 L842.6,706.5 L844.6,710.3 L846.6,714.1 L848.6,717.8 L850.6,721.5 L852.6,725.2 L854.6,728.9 L856.6,732.5 L858.6,736.1 L860.6,739.7 L862.6,743.2 L864.6,746.6 L866.6,750.0 L868.6,753.4 L870.6,756.6 L872.6,759.8 L874.6,762.9 L876.6,766.0 L878.6,769.0 L880.6,771.9 L882.6,774.7 L884.7,777.4 L886.7,780.1 L888.7,782.7 L890.7,785.2 L892.7,787.7 L894.7,790.1 L896.7,792.4 L898.7,794.7 L900.7,796.9 L902.7,799.1 L904.7,801.2 L906.7,803.2 L908.7,805.2 L910.7,807.2 L912.7,809.1 L914.7,811.0" fill="none" stroke="#918ed8" stroke-width="4.2" stroke-linecap="round"/>
<path d="M470.0,895.0 L472.0,894.6 L474.0,894.2 L476.0,893.8 L478.0,893.3 L480.0,892.9 L482.0,892.4 L484.0,891.9 L486.0,891.3 L488.0,890.8 L490.0,890.2 L492.0,889.6 L494.0,888.9 L496.0,888.3 L498.0,887.6 L500.0,886.8 L502.0,886.1 L504.0,885.3 L506.0,884.5 L508.0,883.6 L510.0,882.7 L512.0,881.8 L514.0,880.8 L516.0,879.8 L518.0,878.8 L520.0,877.7 L522.0,876.6 L524.0,875.4 L526.0,874.3 L528.0,873.1 L530.0,871.8 L532.0,870.6 L534.0,869.2 L536.0,867.9 L538.0,866.5 L540.0,865.0 L542.0,863.6 L544.0,862.0 L546.0,860.4 L548.0,858.8 L550.0,857.1 L552.0,855.3 L554.0,853.4 L556.0,851.5 L558.0,849.4 L560.0,847.3 L562.0,845.0 L564.0,842.7 L566.0,840.2 L568.0,837.7 L570.0,835.1 L572.0,832.5 L574.0,829.9 L576.0,827.2 L578.0,824.6 L580.0,822.0 L582.0,819.4 L584.0,816.8 L586.0,814.2 L588.0,811.5 L590.0,808.8 L592.0,806.0 L594.0,803.2 L596.0,800.3 L598.0,797.4 L600.0,794.5 L602.0,791.5 L604.0,788.5 L606.0,785.5 L608.0,782.5 L610.0,779.5 L612.0,776.5 L614.0,773.5 L616.0,770.5 L618.0,767.5 L620.0,764.4 L622.0,761.4 L624.0,758.3 L626.0,755.3 L628.0,752.2 L630.0,749.1 L632.0,746.0 L634.0,743.0 L636.0,739.9 L638.0,736.8 L640.0,733.8 L642.0,730.8 L644.0,727.9 L646.0,725.0 L648.0,722.1 L650.0,719.3 L652.0,716.6 L654.0,713.9 L656.0,711.3 L658.0,708.7 L660.0,706.2 L662.0,703.7 L664.0,701.3 L666.0,698.9 L668.0,696.5 L670.0,694.2 L672.0,691.9 L674.0,689.6 L676.0,687.4 L678.0,685.2 L680.0,683.1 L682.0,681.0 L684.0,678.9 L686.0,676.8 L688.0,674.8 L690.0,672.8 L692.0,670.9 L694.0,668.9 L696.0,667.0 L698.0,665.1 L700.0,663.2 L702.0,661.3 L704.0,659.4 L706.0,657.6 L708.0,655.7 L710.0,653.9 L712.0,652.1 L714.0,650.4 L716.0,648.8 L718.0,647.2 L720.0,645.7 L722.0,644.2 L724.0,642.9 L726.0,641.6 L728.0,640.5 L730.0,639.4 L732.0,638.4 L734.0,637.5 L736.0,636.7 L738.0,635.9 L740.0,635.1 L742.0,634.4 L744.0,633.7 L746.0,633.0 L748.0,632.4 L750.0,631.8 L752.0,631.3 L754.0,630.7 L756.0,630.3 L758.0,629.8 L760.0,629.4 L762.0,629.1 L764.0,628.8 L766.0,628.6 L768.0,628.4 L770.0,628.3 L772.0,628.2 L774.0,628.2 L776.0,628.2 L778.0,628.2 L780.0,628.2 L782.0,628.3 L784.0,628.5 L786.0,628.7 L788.0,628.9 L790.0,629.2 L792.0,629.6 L794.0,630.1 L796.0,630.7 L798.0,631.3 L800.0,632.0 L802.0,632.7 L804.0,633.5 L806.0,634.3 L808.0,635.2 L810.0,636.0 L812.0,636.9 L814.0,637.8 L816.0,638.8 L818.0,639.8 L820.0,640.8 L822.0,641.9 L824.0,643.1 L826.0,644.3 L828.0,645.6 L830.0,646.9 L832.0,648.3 L834.0,649.7 L836.0,651.2 L838.0,652.7 L840.0,654.2 L842.0,655.7 L844.0,657.2 L846.0,658.8 L848.0,660.4 L850.0,662.0 L852.0,663.6 L854.0,665.2 L856.0,666.8 L858.0,668.4 L860.0,670.0 L862.0,671.5 L864.0,673.1 L866.0,674.7 L868.0,676.2 L870.0,677.8 L872.0,679.4 L874.0,680.9 L876.0,682.5 L878.0,684.1 L880.0,685.8 L882.0,687.4 L884.0,689.1 L886.0,690.9 L888.0,692.6 L890.0,694.4 L892.0,696.2 L894.0,698.1 L896.0,700.0 L898.0,701.9 L900.0,703.8 L902.0,705.8 L904.0,707.8 L906.0,709.8 L908.0,711.8 L910.0,713.8 L912.0,715.9 L914.0,717.9 L916.0,719.9 L918.0,721.9 L920.0,723.9 L922.0,725.8 L924.0,727.8 L926.0,729.7 L928.0,731.5 L930.0,733.4 L932.0,735.2 L934.0,737.0 L936.0,738.7 L938.0,740.5 L940.0,742.1 L942.0,743.8 L944.0,745.4 L946.0,747.0 L948.0,748.5 L950.0,750.1 L952.0,751.6 L954.0,753.1 L956.0,754.6 L958.0,756.1 L960.0,757.6 L962.0,759.0 L964.0,760.5 L966.0,762.0 L968.0,763.4 L970.0,764.8 L972.0,766.3 L974.0,767.7 L976.0,769.1 L978.0,770.5 L980.0,771.9 L982.0,773.3 L984.0,774.7 L986.0,776.0 L988.0,777.4 L990.0,778.7 L992.0,780.0 L994.0,781.2 L996.0,782.5 L998.0,783.7 L1000.0,784.9 L1002.0,786.0 L1004.0,787.2 L1006.0,788.3 L1008.0,789.4 L1010.0,790.6 L1012.0,791.7 L1014.0,792.8 L1016.0,793.9 L1018.0,795.0 L1020.0,796.1 L1022.0,797.2 L1024.0,798.3 L1026.0,799.4 L1028.0,800.5 L1030.0,801.6 L1032.0,802.7 L1034.0,803.8 L1036.0,804.9 L1038.0,806.0 L1040.0,807.2 L1042.0,808.3 L1044.0,809.4 L1046.0,810.5 L1048.0,811.7 L1050.0,812.8 L1052.0,814.0 L1054.0,815.2 L1056.0,816.4 L1058.0,817.6 L1060.0,818.9 L1062.0,820.1 L1064.0,821.4 L1066.0,822.6 L1068.0,823.9 L1070.0,825.2 L1072.0,826.4 L1074.0,827.7 L1076.0,828.9 L1078.0,830.1 L1080.0,831.3 L1082.0,832.5 L1084.0,833.6 L1086.0,834.8 L1088.0,835.9 L1090.0,837.0 L1092.0,838.0 L1094.0,839.1 L1096.0,840.2 L1098.0,841.2 L1100.0,842.2 L1102.0,843.2 L1104.0,844.2 L1106.0,845.2 L1108.0,846.2 L1110.0,847.1 L1112.0,848.1 L1114.0,849.0 L1116.0,850.0 L1118.0,850.9 L1120.0,851.8 L1122.0,852.7 L1124.0,853.6 L1126.0,854.5 L1128.0,855.3 L1130.0,856.2 L1132.0,857.0 L1134.0,857.8 L1136.0,858.6 L1138.0,859.3 L1140.0,860.1 L1142.0,860.8 L1144.0,861.5 L1146.0,862.2 L1148.0,862.8 L1150.0,863.4 L1152.0,864.1 L1154.0,864.7 L1156.0,865.3 L1158.0,865.9 L1160.0,866.5 L1162.0,867.0 L1164.0,867.6 L1166.0,868.2 L1168.0,868.7 L1170.0,869.3 L1172.0,869.8 L1174.0,870.4 L1176.0,870.9 L1178.0,871.5 L1180.0,872.0 L1182.0,872.6 L1184.0,873.1 L1186.0,873.7 L1188.0,874.2 L1190.0,874.8 L1192.0,875.3 L1194.0,875.9 L1196.0,876.4 L1198.0,876.9 L1200.0,877.4 L1202.0,877.9 L1204.0,878.4 L1206.0,878.8 L1208.0,879.3 L1210.0,879.7 L1212.0,880.1 L1214.0,880.5 L1216.0,880.9 L1218.0,881.2 L1220.0,881.5 L1222.0,881.9 L1224.0,882.2 L1226.0,882.5 L1228.0,882.8 L1230.0,883.1 L1232.0,883.4 L1234.0,883.7 L1236.0,883.9 L1238.0,884.2 L1240.0,884.5 L1242.0,884.8 L1244.0,885.0 L1246.0,885.3 L1248.0,885.6 L1250.0,885.8 L1252.0,886.1 L1254.0,886.4 L1256.0,886.7 L1258.0,887.0 L1260.0,887.3 L1262.0,887.6 L1264.0,887.9 L1266.0,888.2 L1268.0,888.5 L1270.0,888.8 L1272.0,889.2 L1274.0,889.5 L1276.0,889.8 L1278.0,890.2 L1280.0,890.5 L1282.0,890.8 L1284.0,891.2 L1286.0,891.5 L1288.0,891.9 L1290.0,892.2 L1292.0,892.6 L1294.0,892.9 L1296.0,893.3 L1298.0,893.6 L1300.0,894.0" fill="none" stroke="#c85e9a" stroke-width="4.2" stroke-linecap="round"/>
<path d="M470.0,893.0 L472.0,892.5 L474.0,892.0 L476.0,891.4 L478.0,890.9 L480.0,890.3 L482.0,889.8 L484.0,889.2 L486.0,888.6 L488.0,888.0 L490.0,887.3 L492.0,886.7 L494.0,886.0 L496.0,885.3 L498.0,884.6 L500.0,883.9 L502.0,883.1 L504.0,882.4 L506.0,881.6 L508.0,880.7 L510.0,879.9 L512.0,879.0 L514.0,878.1 L516.0,877.2 L518.0,876.3 L520.0,875.4 L522.0,874.4 L524.0,873.5 L526.0,872.5 L528.0,871.6 L530.0,870.6 L532.0,869.7 L534.0,868.8 L536.0,867.9 L538.0,867.0 L540.0,866.1 L542.0,865.2 L544.0,864.3 L546.0,863.4 L548.0,862.6 L550.0,861.7 L552.0,860.8 L554.0,860.0 L556.0,859.1 L558.0,858.3 L560.0,857.4 L562.0,856.6 L564.0,855.7 L566.0,854.9 L568.0,854.0 L570.0,853.2 L572.0,852.3 L574.0,851.5 L576.0,850.6 L578.0,849.8 L580.0,848.9 L582.0,848.1 L584.0,847.2 L586.0,846.4 L588.0,845.6 L590.0,844.7 L592.0,843.8 L594.0,842.9 L596.0,842.0 L598.0,841.0 L600.0,839.9 L602.0,838.8 L604.0,837.6 L606.0,836.3 L608.0,834.8 L610.0,833.2 L612.0,831.5 L614.0,829.7 L616.0,827.7 L618.0,825.6 L620.0,823.5 L622.0,821.2 L624.0,818.9 L626.0,816.5 L628.0,814.1 L630.0,811.6 L632.0,809.2 L634.0,806.7 L636.0,804.2 L638.0,801.8 L640.0,799.3 L642.0,796.8 L644.0,794.3 L646.0,791.8 L648.0,789.2 L650.0,786.7 L652.0,784.1 L654.0,781.5 L656.0,778.9 L658.0,776.2 L660.0,773.5 L662.0,770.8 L664.0,768.0 L666.0,765.2 L668.0,762.3 L670.0,759.4 L672.0,756.5 L674.0,753.5 L676.0,750.6 L678.0,747.6 L680.0,744.7 L682.0,741.9 L684.0,739.1 L686.0,736.3 L688.0,733.7 L690.0,731.1 L692.0,728.7 L694.0,726.2 L696.0,723.9 L698.0,721.7 L700.0,719.5 L702.0,717.4 L704.0,715.5 L706.0,713.6 L708.0,711.9 L710.0,710.2 L712.0,708.7 L714.0,707.4 L716.0,706.1 L718.0,704.9 L720.0,703.8 L722.0,702.9 L724.0,702.0 L726.0,701.2 L728.0,700.6 L730.0,700.1 L732.0,699.8 L734.0,699.6 L736.0,699.6 L738.0,699.8 L740.0,700.1 L742.0,700.7 L744.0,701.3 L746.0,702.1 L748.0,703.0 L750.0,704.0 L752.0,705.0 L754.0,706.2 L756.0,707.5 L758.0,708.9 L760.0,710.5 L762.0,712.1 L764.0,713.9 L766.0,715.8 L768.0,717.8 L770.0,719.9 L772.0,722.0 L774.0,724.3 L776.0,726.7 L778.0,729.1 L780.0,731.7 L782.0,734.3 L784.0,737.0 L786.0,739.7 L788.0,742.6 L790.0,745.5 L792.0,748.5 L794.0,751.6 L796.0,754.7 L798.0,757.9 L800.0,761.2 L802.0,764.5 L804.0,767.8 L806.0,771.2 L808.0,774.6 L810.0,777.9 L812.0,781.3 L814.0,784.6 L816.0,787.9 L818.0,791.0 L820.0,794.1 L822.0,797.1 L824.0,800.0 L826.0,802.8 L828.0,805.5 L830.0,808.1 L832.0,810.6 L834.0,813.0 L836.0,815.4 L838.0,817.6 L840.0,819.8 L842.0,822.0 L844.0,824.1 L846.0,826.1 L848.0,828.1 L850.0,830.1 L852.0,832.0 L854.0,833.9 L856.0,835.8 L858.0,837.7 L860.0,839.5 L862.0,841.3 L864.0,843.1 L866.0,844.8 L868.0,846.5 L870.0,848.2 L872.0,849.8 L874.0,851.4 L876.0,852.9 L878.0,854.4 L880.0,855.9 L882.0,857.4 L884.0,858.8 L886.0,860.2 L888.0,861.6 L890.0,863.0 L892.0,864.3 L894.0,865.6 L896.0,866.9 L898.0,868.2 L900.0,869.4 L902.0,870.6 L904.0,871.8 L906.0,872.9 L908.0,874.0 L910.0,875.0 L912.0,875.9 L914.0,876.8 L916.0,877.6 L918.0,878.5 L920.0,879.2 L922.0,880.0 L924.0,880.7 L926.0,881.4 L928.0,882.0 L930.0,882.6 L932.0,883.2 L934.0,883.8 L936.0,884.4 L938.0,884.9 L940.0,885.4 L942.0,885.9 L944.0,886.4 L946.0,886.9 L948.0,887.4 L950.0,887.8 L952.0,888.2 L954.0,888.6 L956.0,889.0 L958.0,889.4 L960.0,889.7 L962.0,890.0 L964.0,890.3 L966.0,890.6 L968.0,890.8 L970.0,891.1 L972.0,891.3 L974.0,891.5 L976.0,891.7 L978.0,891.9 L980.0,892.1 L982.0,892.3 L984.0,892.4 L986.0,892.6 L988.0,892.8 L990.0,892.9 L992.0,893.1 L994.0,893.2 L996.0,893.4 L998.0,893.5 L1000.0,893.6 L1002.0,893.8 L1004.0,893.9 L1006.0,894.0 L1008.0,894.1 L1010.0,894.2 L1012.0,894.3 L1014.0,894.5 L1016.0,894.6 L1018.0,894.7 L1020.0,894.8 L1022.0,894.9 L1024.0,895.0 L1026.0,895.0 L1028.0,895.1 L1030.0,895.2 L1032.0,895.3 L1034.0,895.4 L1036.0,895.5 L1038.0,895.6 L1040.0,895.6 L1042.0,895.7 L1044.0,895.8 L1046.0,895.9 L1048.0,895.9 L1050.0,896.0 L1052.0,896.1 L1054.0,896.2 L1056.0,896.2 L1058.0,896.3 L1060.0,896.4 L1062.0,896.4 L1064.0,896.5 L1066.0,896.5 L1068.0,896.6 L1070.0,896.7 L1072.0,896.7 L1074.0,896.8 L1076.0,896.8 L1078.0,896.9 L1080.0,896.9 L1082.0,897.0 L1084.0,897.0 L1086.0,897.1 L1088.0,897.1 L1090.0,897.2 L1092.0,897.2 L1094.0,897.3 L1096.0,897.3 L1098.0,897.4 L1100.0,897.4 L1102.0,897.5 L1104.0,897.5 L1106.0,897.6 L1108.0,897.6 L1110.0,897.6 L1112.0,897.7 L1114.0,897.7 L1116.0,897.8 L1118.0,897.8 L1120.0,897.9 L1122.0,897.9 L1124.0,897.9 L1126.0,898.0 L1128.0,898.0 L1130.0,898.1 L1132.0,898.1 L1134.0,898.1 L1136.0,898.2 L1138.0,898.2 L1140.0,898.2 L1142.0,898.3 L1144.0,898.3 L1146.0,898.3 L1148.0,898.3 L1150.0,898.4 L1152.0,898.4 L1154.0,898.4 L1156.0,898.5 L1158.0,898.5 L1160.0,898.5" fill="none" stroke="#fff" stroke-opacity="0.3" stroke-width="9.0" stroke-linecap="round"/>
<path d="M470.0,893.0 L472.0,892.5 L474.0,892.0 L476.0,891.4 L478.0,890.9 L480.0,890.3 L482.0,889.8 L484.0,889.2 L486.0,888.6 L488.0,888.0 L490.0,887.3 L492.0,886.7 L494.0,886.0 L496.0,885.3 L498.0,884.6 L500.0,883.9 L502.0,883.1 L504.0,882.4 L506.0,881.6 L508.0,880.7 L510.0,879.9 L512.0,879.0 L514.0,878.1 L516.0,877.2 L518.0,876.3 L520.0,875.4 L522.0,874.4 L524.0,873.5 L526.0,872.5 L528.0,871.6 L530.0,870.6 L532.0,869.7 L534.0,868.8 L536.0,867.9 L538.0,867.0 L540.0,866.1 L542.0,865.2 L544.0,864.3 L546.0,863.4 L548.0,862.6 L550.0,861.7 L552.0,860.8 L554.0,860.0 L556.0,859.1 L558.0,858.3 L560.0,857.4 L562.0,856.6 L564.0,855.7 L566.0,854.9 L568.0,854.0 L570.0,853.2 L572.0,852.3 L574.0,851.5 L576.0,850.6 L578.0,849.8 L580.0,848.9 L582.0,848.1 L584.0,847.2 L586.0,846.4 L588.0,845.6 L590.0,844.7 L592.0,843.8 L594.0,842.9 L596.0,842.0 L598.0,841.0 L600.0,839.9 L602.0,838.8 L604.0,837.6 L606.0,836.3 L608.0,834.8 L610.0,833.2 L612.0,831.5 L614.0,829.7 L616.0,827.7 L618.0,825.6 L620.0,823.5 L622.0,821.2 L624.0,818.9 L626.0,816.5 L628.0,814.1 L630.0,811.6 L632.0,809.2 L634.0,806.7 L636.0,804.2 L638.0,801.8 L640.0,799.3 L642.0,796.8 L644.0,794.3 L646.0,791.8 L648.0,789.2 L650.0,786.7 L652.0,784.1 L654.0,781.5 L656.0,778.9 L658.0,776.2 L660.0,773.5 L662.0,770.8 L664.0,768.0 L666.0,765.2 L668.0,762.3 L670.0,759.4 L672.0,756.5 L674.0,753.5 L676.0,750.6 L678.0,747.6 L680.0,744.7 L682.0,741.9 L684.0,739.1 L686.0,736.3 L688.0,733.7 L690.0,731.1 L692.0,728.7 L694.0,726.2 L696.0,723.9 L698.0,721.7 L700.0,719.5 L702.0,717.4 L704.0,715.5 L706.0,713.6 L708.0,711.9 L710.0,710.2 L712.0,708.7 L714.0,707.4 L716.0,706.1 L718.0,704.9 L720.0,703.8 L722.0,702.9 L724.0,702.0 L726.0,701.2 L728.0,700.6 L730.0,700.1 L732.0,699.8 L734.0,699.6 L736.0,699.6 L738.0,699.8 L740.0,700.1 L742.0,700.7 L744.0,701.3 L746.0,702.1 L748.0,703.0 L750.0,704.0 L752.0,705.0 L754.0,706.2 L756.0,707.5 L758.0,708.9 L760.0,710.5 L762.0,712.1 L764.0,713.9 L766.0,715.8 L768.0,717.8 L770.0,719.9 L772.0,722.0 L774.0,724.3 L776.0,726.7 L778.0,729.1 L780.0,731.7 L782.0,734.3 L784.0,737.0 L786.0,739.7 L788.0,742.6 L790.0,745.5 L792.0,748.5 L794.0,751.6 L796.0,754.7 L798.0,757.9 L800.0,761.2 L802.0,764.5 L804.0,767.8 L806.0,771.2 L808.0,774.6 L810.0,777.9 L812.0,781.3 L814.0,784.6 L816.0,787.9 L818.0,791.0 L820.0,794.1 L822.0,797.1 L824.0,800.0 L826.0,802.8 L828.0,805.5 L830.0,808.1 L832.0,810.6 L834.0,813.0 L836.0,815.4 L838.0,817.6 L840.0,819.8 L842.0,822.0 L844.0,824.1 L846.0,826.1 L848.0,828.1 L850.0,830.1 L852.0,832.0 L854.0,833.9 L856.0,835.8 L858.0,837.7 L860.0,839.5 L862.0,841.3 L864.0,843.1 L866.0,844.8 L868.0,846.5 L870.0,848.2 L872.0,849.8 L874.0,851.4 L876.0,852.9 L878.0,854.4 L880.0,855.9 L882.0,857.4 L884.0,858.8 L886.0,860.2 L888.0,861.6 L890.0,863.0 L892.0,864.3 L894.0,865.6 L896.0,866.9 L898.0,868.2 L900.0,869.4 L902.0,870.6 L904.0,871.8 L906.0,872.9 L908.0,874.0 L910.0,875.0 L912.0,875.9 L914.0,876.8 L916.0,877.6 L918.0,878.5 L920.0,879.2 L922.0,880.0 L924.0,880.7 L926.0,881.4 L928.0,882.0 L930.0,882.6 L932.0,883.2 L934.0,883.8 L936.0,884.4 L938.0,884.9 L940.0,885.4 L942.0,885.9 L944.0,886.4 L946.0,886.9 L948.0,887.4 L950.0,887.8 L952.0,888.2 L954.0,888.6 L956.0,889.0 L958.0,889.4 L960.0,889.7 L962.0,890.0 L964.0,890.3 L966.0,890.6 L968.0,890.8 L970.0,891.1 L972.0,891.3 L974.0,891.5 L976.0,891.7 L978.0,891.9 L980.0,892.1 L982.0,892.3 L984.0,892.4 L986.0,892.6 L988.0,892.8 L990.0,892.9 L992.0,893.1 L994.0,893.2 L996.0,893.4 L998.0,893.5 L1000.0,893.6 L1002.0,893.8 L1004.0,893.9 L1006.0,894.0 L1008.0,894.1 L1010.0,894.2 L1012.0,894.3 L1014.0,894.5 L1016.0,894.6 L1018.0,894.7 L1020.0,894.8 L1022.0,894.9 L1024.0,895.0 L1026.0,895.0 L1028.0,895.1 L1030.0,895.2 L1032.0,895.3 L1034.0,895.4 L1036.0,895.5 L1038.0,895.6 L1040.0,895.6 L1042.0,895.7 L1044.0,895.8 L1046.0,895.9 L1048.0,895.9 L1050.0,896.0 L1052.0,896.1 L1054.0,896.2 L1056.0,896.2 L1058.0,896.3 L1060.0,896.4 L1062.0,896.4 L1064.0,896.5 L1066.0,896.5 L1068.0,896.6 L1070.0,896.7 L1072.0,896.7 L1074.0,896.8 L1076.0,896.8 L1078.0,896.9 L1080.0,896.9 L1082.0,897.0 L1084.0,897.0 L1086.0,897.1 L1088.0,897.1 L1090.0,897.2 L1092.0,897.2 L1094.0,897.3 L1096.0,897.3 L1098.0,897.4 L1100.0,897.4 L1102.0,897.5 L1104.0,897.5 L1106.0,897.6 L1108.0,897.6 L1110.0,897.6 L1112.0,897.7 L1114.0,897.7 L1116.0,897.8 L1118.0,897.8 L1120.0,897.9 L1122.0,897.9 L1124.0,897.9 L1126.0,898.0 L1128.0,898.0 L1130.0,898.1 L1132.0,898.1 L1134.0,898.1 L1136.0,898.2 L1138.0,898.2 L1140.0,898.2 L1142.0,898.3 L1144.0,898.3 L1146.0,898.3 L1148.0,898.3 L1150.0,898.4 L1152.0,898.4 L1154.0,898.4 L1156.0,898.5 L1158.0,898.5 L1160.0,898.5" fill="none" stroke="#2f6022" stroke-width="4.5" stroke-linecap="round"/>
<path d="M470.0,894.0 L472.0,893.6 L474.0,893.1 L476.0,892.7 L478.0,892.2 L480.0,891.7 L482.0,891.2 L484.0,890.7 L486.0,890.2 L488.0,889.6 L490.0,889.0 L492.0,888.5 L494.0,887.9 L496.0,887.2 L498.0,886.6 L500.0,886.0 L502.0,885.3 L504.0,884.6 L506.0,883.8 L508.0,883.1 L510.0,882.3 L512.0,881.5 L514.0,880.6 L516.0,879.8 L518.0,878.9 L520.0,878.0 L522.0,877.1 L524.0,876.2 L526.0,875.3 L528.0,874.4 L530.0,873.5 L532.0,872.6 L534.0,871.7 L536.0,870.8 L538.0,869.9 L540.0,869.0 L542.0,868.2 L544.0,867.3 L546.0,866.4 L548.0,865.6 L550.0,864.7 L552.0,863.9 L554.0,863.0 L556.0,862.2 L558.0,861.3 L560.0,860.5 L562.0,859.6 L564.0,858.7 L566.0,857.9 L568.0,857.0 L570.0,856.2 L572.0,855.3 L574.0,854.4 L576.0,853.6 L578.0,852.7 L580.0,851.9 L582.0,851.1 L584.0,850.3 L586.0,849.4 L588.0,848.6 L590.0,847.8 L592.0,847.0 L594.0,846.1 L596.0,845.3 L598.0,844.4 L600.0,843.5 L602.0,842.5 L604.0,841.5 L606.0,840.5 L608.0,839.4 L610.0,838.2 L612.0,836.9 L614.0,835.4 L616.0,833.8 L618.0,832.1 L620.0,830.3 L622.0,828.4 L624.0,826.4 L626.0,824.5 L628.0,822.4 L630.0,820.5 L632.0,818.4 L634.0,816.1 L636.0,813.4 L638.0,810.5 L640.0,807.8 L642.0,805.6 L644.0,803.8 L646.0,802.1 L648.0,800.1 L650.0,797.9 L652.0,795.5 L654.0,793.3 L656.0,791.3 L658.0,789.2 L660.0,787.0 L662.0,784.3 L664.0,781.4 L666.0,778.6 L668.0,776.2 L670.0,774.3 L672.0,772.5 L674.0,770.6 L676.0,768.5 L678.0,766.2 L680.0,764.0 L682.0,762.0 L684.0,760.1 L686.0,758.0 L688.0,755.4 L690.0,752.7 L692.0,750.0 L694.0,747.8 L696.0,746.1 L698.0,744.9 L700.0,743.7 L702.0,742.5 L704.0,741.2 L706.0,740.2 L708.0,739.5 L710.0,739.0 L712.0,738.5 L714.0,737.5 L716.0,736.2 L718.0,734.8 L720.0,733.7 L722.0,732.9 L724.0,732.4 L726.0,731.7 L728.0,730.8 L730.0,729.7 L732.0,728.7 L734.0,727.8 L736.0,727.2 L738.0,726.5 L740.0,725.4 L742.0,724.0 L744.0,722.4 L746.0,721.1 L748.0,720.2 L750.0,719.6 L752.0,719.0 L754.0,718.2 L756.0,717.3 L758.0,716.4 L760.0,715.8 L762.0,715.5 L764.0,715.3 L766.0,714.8 L768.0,714.0 L770.0,713.2 L772.0,712.6 L774.0,712.5 L776.0,712.9 L778.0,713.5 L780.0,714.0 L782.0,714.3 L784.0,714.8 L786.0,715.5 L788.0,716.5 L790.0,717.6 L792.0,718.6 L794.0,719.2 L796.0,719.7 L798.0,720.5 L800.0,722.0 L802.0,724.1 L804.0,726.8 L806.0,729.5 L808.0,732.2 L810.0,734.8 L812.0,737.5 L814.0,740.3 L816.0,743.0 L818.0,745.4 L820.0,747.2 L822.0,748.6 L824.0,749.9 L826.0,751.6 L828.0,753.6 L830.0,755.8 L832.0,757.9 L834.0,759.8 L836.0,761.7 L838.0,763.7 L840.0,766.1 L842.0,768.7 L844.0,771.2 L846.0,773.4 L848.0,775.1 L850.0,776.8 L852.0,778.7 L854.0,781.0 L856.0,783.4 L858.0,785.9 L860.0,788.1 L862.0,790.2 L864.0,792.5 L866.0,795.1 L868.0,797.9 L870.0,800.7 L872.0,803.0 L874.0,804.8 L876.0,806.4 L878.0,808.1 L880.0,810.0 L882.0,812.1 L884.0,814.2 L886.0,816.1 L888.0,817.9 L890.0,819.9 L892.0,822.3 L894.0,825.1 L896.0,828.0 L898.0,830.7 L900.0,832.2 L902.0,834.7 L904.0,837.2 L906.0,839.5 L908.0,841.7 L910.0,843.6 L912.0,845.5 L914.0,847.2 L916.0,848.8 L918.0,850.3 L920.0,851.8 L922.0,853.2 L924.0,854.6 L926.0,855.9 L928.0,857.2 L930.0,858.4 L932.0,859.6 L934.0,860.7 L936.0,861.9 L938.0,863.0 L940.0,864.0 L942.0,865.1 L944.0,866.1 L946.0,867.1 L948.0,868.1 L950.0,869.1 L952.0,870.0 L954.0,870.9 L956.0,871.8 L958.0,872.6 L960.0,873.4 L962.0,874.2 L964.0,874.9 L966.0,875.6 L968.0,876.3 L970.0,876.9 L972.0,877.6 L974.0,878.2 L976.0,878.8 L978.0,879.3 L980.0,879.9 L982.0,880.4 L984.0,880.9 L986.0,881.4 L988.0,881.8 L990.0,882.3 L992.0,882.7 L994.0,883.1 L996.0,883.5 L998.0,883.8 L1000.0,884.2 L1002.0,884.5 L1004.0,884.8 L1006.0,885.1 L1008.0,885.4 L1010.0,885.7 L1012.0,886.0 L1014.0,886.3 L1016.0,886.6 L1018.0,886.9 L1020.0,887.1 L1022.0,887.4 L1024.0,887.6 L1026.0,887.9 L1028.0,888.1 L1030.0,888.4 L1032.0,888.6 L1034.0,888.8 L1036.0,889.0 L1038.0,889.2 L1040.0,889.4 L1042.0,889.7 L1044.0,889.9 L1046.0,890.1 L1048.0,890.2 L1050.0,890.4 L1052.0,890.6 L1054.0,890.8 L1056.0,891.0 L1058.0,891.2 L1060.0,891.4 L1062.0,891.5 L1064.0,891.7 L1066.0,891.9 L1068.0,892.1 L1070.0,892.2 L1072.0,892.4 L1074.0,892.6 L1076.0,892.7 L1078.0,892.9 L1080.0,893.0 L1082.0,893.2 L1084.0,893.3 L1086.0,893.5 L1088.0,893.6 L1090.0,893.8 L1092.0,893.9 L1094.0,894.0 L1096.0,894.2 L1098.0,894.3 L1100.0,894.4 L1102.0,894.5 L1104.0,894.6 L1106.0,894.7 L1108.0,894.8 L1110.0,894.9 L1112.0,895.0 L1114.0,895.1 L1116.0,895.2 L1118.0,895.3 L1120.0,895.3 L1122.0,895.4 L1124.0,895.5 L1126.0,895.6 L1128.0,895.6 L1130.0,895.7 L1132.0,895.8 L1134.0,895.8 L1136.0,895.9 L1138.0,896.0 L1140.0,896.0 L1142.0,896.1 L1144.0,896.1 L1146.0,896.2 L1148.0,896.3 L1150.0,896.3 L1152.0,896.4 L1154.0,896.4 L1156.0,896.5 L1158.0,896.5 L1160.0,896.6 L1162.0,896.6 L1164.0,896.7 L1166.0,896.7 L1168.0,896.8 L1170.0,896.8 L1172.0,896.8 L1174.0,896.9 L1176.0,896.9 L1178.0,897.0 L1180.0,897.0 L1182.0,897.0 L1184.0,897.1 L1186.0,897.1 L1188.0,897.1 L1190.0,897.2 L1192.0,897.2 L1194.0,897.2 L1196.0,897.3 L1198.0,897.3 L1200.0,897.4 L1202.0,897.4 L1204.0,897.4 L1206.0,897.5 L1208.0,897.5 L1210.0,897.5 L1212.0,897.5 L1214.0,897.6 L1216.0,897.6 L1218.0,897.6 L1220.0,897.7 L1222.0,897.7 L1224.0,897.7 L1226.0,897.8 L1228.0,897.8 L1230.0,897.8 L1232.0,897.8 L1234.0,897.9 L1236.0,897.9 L1238.0,897.9 L1240.0,898.0 L1242.0,898.0 L1244.0,898.0 L1246.0,898.0 L1248.0,898.1 L1250.0,898.1 L1252.0,898.1 L1254.0,898.1 L1256.0,898.2 L1258.0,898.2 L1260.0,898.2 L1262.0,898.2 L1264.0,898.2 L1266.0,898.3 L1268.0,898.3 L1270.0,898.3 L1272.0,898.3 L1274.0,898.3 L1276.0,898.3 L1278.0,898.4 L1280.0,898.4 L1282.0,898.4 L1284.0,898.4 L1286.0,898.4 L1288.0,898.4 L1290.0,898.4 L1292.0,898.5 L1294.0,898.5 L1296.0,898.5 L1298.0,898.5 L1300.0,898.5 L1302.0,898.5 L1304.0,898.5 L1306.0,898.5 L1308.0,898.5 L1310.0,898.5 L1312.0,898.6 L1314.0,898.6 L1316.0,898.6 L1318.0,898.6 L1320.0,898.6 L1322.0,898.6 L1324.0,898.6 L1326.0,898.6 L1328.0,898.6 L1330.0,898.6 L1332.0,898.6 L1334.0,898.6 L1336.0,898.6 L1338.0,898.7 L1340.0,898.7 L1342.0,898.7 L1344.0,898.7 L1346.0,898.7 L1348.0,898.7 L1350.0,898.7 L1352.0,898.7 L1354.0,898.7 L1356.0,898.7 L1358.0,898.7 L1360.0,898.7 L1362.0,898.7 L1364.0,898.7 L1366.0,898.8 L1368.0,898.8 L1370.0,898.8 L1372.0,898.8 L1374.0,898.8 L1376.0,898.8 L1378.0,898.8 L1380.0,898.8 L1382.0,898.8 L1384.0,898.8 L1386.0,898.8 L1388.0,898.8 L1390.0,898.8 L1392.0,898.8 L1394.0,898.8 L1396.0,898.8 L1398.0,898.8 L1400.0,898.9 L1402.0,898.9 L1404.0,898.9 L1406.0,898.9 L1408.0,898.9 L1410.0,898.9 L1412.0,898.9 L1414.0,898.9 L1416.0,898.9 L1418.0,898.9 L1420.0,898.9 L1422.0,898.9 L1424.0,898.9 L1426.0,898.9 L1428.0,898.9 L1430.0,898.9 L1432.0,898.9 L1434.0,898.9 L1436.0,898.9 L1438.0,898.9 L1440.0,898.9 L1442.0,898.9 L1444.0,898.9 L1446.0,899.0 L1448.0,899.0 L1450.0,899.0 L1452.0,899.0 L1454.0,899.0 L1456.0,899.0 L1458.0,899.0 L1460.0,899.0 L1462.0,899.0 L1464.0,899.0 L1466.0,899.0 L1468.0,899.0 L1470.0,899.0 L1472.0,899.0 L1474.0,899.0 L1476.0,899.0 L1478.0,899.0 L1480.0,899.0 L1482.0,899.0 L1484.0,899.0 L1486.0,899.0 L1488.0,899.0 L1490.0,899.0 L1492.0,899.0 L1494.0,899.0 L1496.0,899.0 L1498.0,899.0 L1500.0,899.0 L1502.0,899.0 L1504.0,899.0 L1506.0,899.0" fill="none" stroke="#cd4329" stroke-width="5.5" stroke-linecap="round" stroke-linejoin="round"/>
<defs><clipPath id="hc"><path d="M461.0,898.5 V888.8 H464.9 V889.0 H468.8 V885.9 H472.7 V884.9 H476.6 V883.0 H480.5 V877.7 H484.4 V873.7 H488.3 V866.9 H492.2 V861.9 H496.1 V855.9 H500.0 V848.7 H503.9 V841.3 H507.8 V832.1 H511.7 V823.3 H515.6 V818.2 H519.5 V814.9 H523.4 V807.4 H527.3 V805.5 H531.2 V804.6 H535.1 V796.2 H539.0 V793.5 H542.9 V801.2 H546.8 V804.1 H550.7 V804.6 H554.6 V805.4 H558.5 V806.3 H562.4 V811.4 H566.3 V816.9 H570.2 V822.0 H574.1 V823.4 H578.0 V823.8 H581.9 V825.9 H585.8 V827.4 H589.7 V829.5 H593.6 V831.0 H597.5 V834.3 H601.4 V835.9 H605.3 V836.2 H609.2 V838.8 H613.1 V839.6 H617.0 V841.9 H620.9 V843.4 H624.8 V846.1 H628.7 V846.8 H632.6 V848.7 H636.5 V851.3 H640.4 V852.2 H644.3 V855.6 H648.2 V855.5 H652.1 V859.5 H656.0 V860.7 H659.9 V862.9 H663.8 V864.9 H667.7 V865.5 H671.6 V866.3 H675.5 V866.0 H679.4 V867.3 H683.3 V870.1 H687.2 V870.3 H691.1 V871.6 H695.0 V873.2 H698.9 V873.2 H702.8 V871.8 H706.7 V873.4 H710.6 V875.0 H714.5 V874.5 H718.4 V877.6 H722.3 V878.4 H726.2 V879.0 H730.1 V878.6 H734.0 V880.6 H737.9 V879.2 H741.8 V880.6 H745.7 V881.9 H749.6 V883.6 H753.5 V883.4 H757.4 V882.9 H761.3 V884.1 H765.2 V884.6 H769.1 V885.2 H773.0 V885.3 H776.9 V886.7 H780.8 V887.5 H784.7 V889.2 H788.6 V889.9 H792.5 V889.6 H796.4 V890.1 H800.3 V891.8 H804.2 V892.8 H808.1 V892.7 H812.0 V893.6 H815.9 V894.3 H819.8 V891.7 H823.7 V894.7 H827.6 V893.1 H831.5 V894.0 H835.4 V895.3 H839.3 V895.3 H843.2 V893.8 H847.1 V895.6 H851.0 V893.8 H854.9 V894.9 H858.8 V896.5 H862.7 V895.4 H866.6 V896.0 H870.5 V896.6 H874.4 V897.0 H878.3 V896.9 H882.2 V894.6 H886.1 V896.1 H890.0 V896.4 H893.9 V895.2 H897.8 V896.9 H901.7 V897.2 H905.6 V897.9 H909.5 V898.3 H913.4 V895.7 H917.3 V896.1 H921.2 V897.0 H925.1 V897.1 H929.0 V897.1 H932.9 V897.1 H936.8 V897.2 H940.7 V897.2 H944.6 V897.3 H948.5 V897.3 H952.4 V897.3 H956.3 V897.4 H960.2 V897.4 H964.1 V897.5 H968.0 V897.5 H971.9 V897.5 H975.8 V897.6 H979.7 V897.6 H983.6 V897.7 H987.5 V897.7 H991.4 V897.7 H995.3 V897.8 H999.2 V898.5 Z"/><path d="M1190.0,898.5 V897.8 H1193.9 V897.4 H1197.8 V897.0 H1201.7 V897.1 H1205.6 V895.1 H1209.5 V895.1 H1213.4 V896.1 H1217.3 V894.6 H1221.2 V896.5 H1225.1 V896.6 H1229.0 V893.8 H1232.9 V895.3 H1236.8 V896.0 H1240.7 V896.3 H1244.6 V893.6 H1248.5 V892.9 H1252.4 V894.8 H1256.3 V894.5 H1260.2 V891.5 H1264.1 V891.3 H1268.0 V891.2 H1271.9 V890.6 H1275.8 V887.5 H1279.7 V888.0 H1283.6 V887.3 H1287.5 V885.3 H1291.4 V882.9 H1295.3 V881.3 H1299.2 V881.1 H1303.1 V882.0 H1307.0 V878.8 H1310.9 V877.9 H1314.8 V878.1 H1318.7 V876.2 H1322.6 V875.5 H1326.5 V898.5 Z"/></clipPath></defs>
<g opacity="0.9">
<path d="M461.0,898.5 V888.8 H464.9 V889.0 H468.8 V885.9 H472.7 V884.9 H476.6 V883.0 H480.5 V877.7 H484.4 V873.7 H488.3 V866.9 H492.2 V861.9 H496.1 V855.9 H500.0 V848.7 H503.9 V841.3 H507.8 V832.1 H511.7 V823.3 H515.6 V818.2 H519.5 V814.9 H523.4 V807.4 H527.3 V805.5 H531.2 V804.6 H535.1 V796.2 H539.0 V793.5 H542.9 V801.2 H546.8 V804.1 H550.7 V804.6 H554.6 V805.4 H558.5 V806.3 H562.4 V811.4 H566.3 V816.9 H570.2 V822.0 H574.1 V823.4 H578.0 V823.8 H581.9 V825.9 H585.8 V827.4 H589.7 V829.5 H593.6 V831.0 H597.5 V834.3 H601.4 V835.9 H605.3 V836.2 H609.2 V838.8 H613.1 V839.6 H617.0 V841.9 H620.9 V843.4 H624.8 V846.1 H628.7 V846.8 H632.6 V848.7 H636.5 V851.3 H640.4 V852.2 H644.3 V855.6 H648.2 V855.5 H652.1 V859.5 H656.0 V860.7 H659.9 V862.9 H663.8 V864.9 H667.7 V865.5 H671.6 V866.3 H675.5 V866.0 H679.4 V867.3 H683.3 V870.1 H687.2 V870.3 H691.1 V871.6 H695.0 V873.2 H698.9 V873.2 H702.8 V871.8 H706.7 V873.4 H710.6 V875.0 H714.5 V874.5 H718.4 V877.6 H722.3 V878.4 H726.2 V879.0 H730.1 V878.6 H734.0 V880.6 H737.9 V879.2 H741.8 V880.6 H745.7 V881.9 H749.6 V883.6 H753.5 V883.4 H757.4 V882.9 H761.3 V884.1 H765.2 V884.6 H769.1 V885.2 H773.0 V885.3 H776.9 V886.7 H780.8 V887.5 H784.7 V889.2 H788.6 V889.9 H792.5 V889.6 H796.4 V890.1 H800.3 V891.8 H804.2 V892.8 H808.1 V892.7 H812.0 V893.6 H815.9 V894.3 H819.8 V891.7 H823.7 V894.7 H827.6 V893.1 H831.5 V894.0 H835.4 V895.3 H839.3 V895.3 H843.2 V893.8 H847.1 V895.6 H851.0 V893.8 H854.9 V894.9 H858.8 V896.5 H862.7 V895.4 H866.6 V896.0 H870.5 V896.6 H874.4 V897.0 H878.3 V896.9 H882.2 V894.6 H886.1 V896.1 H890.0 V896.4 H893.9 V895.2 H897.8 V896.9 H901.7 V897.2 H905.6 V897.9 H909.5 V898.3 H913.4 V895.7 H917.3 V896.1 H921.2 V897.0 H925.1 V897.1 H929.0 V897.1 H932.9 V897.1 H936.8 V897.2 H940.7 V897.2 H944.6 V897.3 H948.5 V897.3 H952.4 V897.3 H956.3 V897.4 H960.2 V897.4 H964.1 V897.5 H968.0 V897.5 H971.9 V897.5 H975.8 V897.6 H979.7 V897.6 H983.6 V897.7 H987.5 V897.7 H991.4 V897.7 H995.3 V897.8 H999.2 V898.5 Z" fill="#9bb5db"/>
<path d="M1190.0,898.5 V897.8 H1193.9 V897.4 H1197.8 V897.0 H1201.7 V897.1 H1205.6 V895.1 H1209.5 V895.1 H1213.4 V896.1 H1217.3 V894.6 H1221.2 V896.5 H1225.1 V896.6 H1229.0 V893.8 H1232.9 V895.3 H1236.8 V896.0 H1240.7 V896.3 H1244.6 V893.6 H1248.5 V892.9 H1252.4 V894.8 H1256.3 V894.5 H1260.2 V891.5 H1264.1 V891.3 H1268.0 V891.2 H1271.9 V890.6 H1275.8 V887.5 H1279.7 V888.0 H1283.6 V887.3 H1287.5 V885.3 H1291.4 V882.9 H1295.3 V881.3 H1299.2 V881.1 H1303.1 V882.0 H1307.0 V878.8 H1310.9 V877.9 H1314.8 V878.1 H1318.7 V876.2 H1322.6 V875.5 H1326.5 V898.5 Z" fill="#9bb5db"/>
<path d="M461.0,780V899 M464.9,780V899 M468.8,780V899 M472.7,780V899 M476.6,780V899 M480.5,780V899 M484.4,780V899 M488.3,780V899 M492.2,780V899 M496.1,780V899 M500.0,780V899 M503.9,780V899 M507.8,780V899 M511.7,780V899 M515.6,780V899 M519.5,780V899 M523.4,780V899 M527.3,780V899 M531.2,780V899 M535.1,780V899 M539.0,780V899 M542.9,780V899 M546.8,780V899 M550.7,780V899 M554.6,780V899 M558.5,780V899 M562.4,780V899 M566.3,780V899 M570.2,780V899 M574.1,780V899 M578.0,780V899 M581.9,780V899 M585.8,780V899 M589.7,780V899 M593.6,780V899 M597.5,780V899 M601.4,780V899 M605.3,780V899 M609.2,780V899 M613.1,780V899 M617.0,780V899 M620.9,780V899 M624.8,780V899 M628.7,780V899 M632.6,780V899 M636.5,780V899 M640.4,780V899 M644.3,780V899 M648.2,780V899 M652.1,780V899 M656.0,780V899 M659.9,780V899 M663.8,780V899 M667.7,780V899 M671.6,780V899 M675.5,780V899 M679.4,780V899 M683.3,780V899 M687.2,780V899 M691.1,780V899 M695.0,780V899 M698.9,780V899 M702.8,780V899 M706.7,780V899 M710.6,780V899 M714.5,780V899 M718.4,780V899 M722.3,780V899 M726.2,780V899 M730.1,780V899 M734.0,780V899 M737.9,780V899 M741.8,780V899 M745.7,780V899 M749.6,780V899 M753.5,780V899 M757.4,780V899 M761.3,780V899 M765.2,780V899 M769.1,780V899 M773.0,780V899 M776.9,780V899 M780.8,780V899 M784.7,780V899 M788.6,780V899 M792.5,780V899 M796.4,780V899 M800.3,780V899 M804.2,780V899 M808.1,780V899 M812.0,780V899 M815.9,780V899 M819.8,780V899 M823.7,780V899 M827.6,780V899 M831.5,780V899 M835.4,780V899 M839.3,780V899 M843.2,780V899 M847.1,780V899 M851.0,780V899 M854.9,780V899 M858.8,780V899 M862.7,780V899 M866.6,780V899 M870.5,780V899 M874.4,780V899 M878.3,780V899 M882.2,780V899 M886.1,780V899 M890.0,780V899 M893.9,780V899 M897.8,780V899 M901.7,780V899 M905.6,780V899 M909.5,780V899 M913.4,780V899 M917.3,780V899 M921.2,780V899 M925.1,780V899 M929.0,780V899 M932.9,780V899 M936.8,780V899 M940.7,780V899 M944.6,780V899 M948.5,780V899 M952.4,780V899 M956.3,780V899 M960.2,780V899 M964.1,780V899 M968.0,780V899 M971.9,780V899 M975.8,780V899 M979.7,780V899 M983.6,780V899 M987.5,780V899 M991.4,780V899 M995.3,780V899 M999.2,780V899 M1003.1,780V899 M1007.0,780V899 M1010.9,780V899 M1014.8,780V899 M1018.7,780V899 M1022.6,780V899 M1026.5,780V899 M1030.4,780V899 M1034.3,780V899 M1038.2,780V899 M1042.1,780V899 M1046.0,780V899 M1049.9,780V899 M1053.8,780V899 M1057.7,780V899 M1061.6,780V899 M1065.5,780V899 M1069.4,780V899 M1073.3,780V899 M1077.2,780V899 M1081.1,780V899 M1085.0,780V899 M1088.9,780V899 M1092.8,780V899 M1096.7,780V899 M1100.6,780V899 M1104.5,780V899 M1108.4,780V899 M1112.3,780V899 M1116.2,780V899 M1120.1,780V899 M1124.0,780V899 M1127.9,780V899 M1131.8,780V899 M1135.7,780V899 M1139.6,780V899 M1143.5,780V899 M1147.4,780V899 M1151.3,780V899 M1155.2,780V899 M1159.1,780V899 M1163.0,780V899 M1166.9,780V899 M1170.8,780V899 M1174.7,780V899 M1178.6,780V899 M1182.5,780V899 M1186.4,780V899 M1190.3,780V899 M1194.2,780V899 M1198.1,780V899 M1202.0,780V899 M1205.9,780V899 M1209.8,780V899 M1213.7,780V899 M1217.6,780V899 M1221.5,780V899 M1225.4,780V899 M1229.3,780V899 M1233.2,780V899 M1237.1,780V899 M1241.0,780V899 M1244.9,780V899 M1248.8,780V899 M1252.7,780V899 M1256.6,780V899 M1260.5,780V899 M1264.4,780V899 M1268.3,780V899 M1272.2,780V899 M1276.1,780V899 M1280.0,780V899 M1283.9,780V899 M1287.8,780V899 M1291.7,780V899 M1295.6,780V899 M1299.5,780V899 M1303.4,780V899 M1307.3,780V899 M1311.2,780V899 M1315.1,780V899 M1319.0,780V899 M1322.9,780V899 M1326.8,780V899" stroke="#6581b0" stroke-width="1.4" clip-path="url(#hc)"/>
<rect x="461" y="886" width="540" height="13" fill="#5f7aa8" opacity="0.25" clip-path="url(#hc)"/>
</g>
<path d="M461.0,888.8 V888.8 H464.9 V889.0 H468.8 V885.9 H472.7 V884.9 H476.6 V883.0 H480.5 V877.7 H484.4 V873.7 H488.3 V866.9 H492.2 V861.9 H496.1 V855.9 H500.0 V848.7 H503.9 V841.3 H507.8 V832.1 H511.7 V823.3 H515.6 V818.2 H519.5 V814.9 H523.4 V807.4 H527.3 V805.5 H531.2 V804.6 H535.1 V796.2 H539.0 V793.5 H542.9 V801.2 H546.8 V804.1 H550.7 V804.6 H554.6 V805.4 H558.5 V806.3 H562.4 V811.4 H566.3 V816.9 H570.2 V822.0 H574.1 V823.4 H578.0 V823.8 H581.9 V825.9 H585.8 V827.4 H589.7 V829.5 H593.6 V831.0 H597.5 V834.3 H601.4 V835.9 H605.3 V836.2 H609.2 V838.8 H613.1 V839.6 H617.0 V841.9 H620.9 V843.4 H624.8 V846.1 H628.7 V846.8 H632.6 V848.7 H636.5 V851.3 H640.4 V852.2 H644.3 V855.6 H648.2 V855.5 H652.1 V859.5 H656.0 V860.7 H659.9 V862.9 H663.8 V864.9 H667.7 V865.5 H671.6 V866.3 H675.5 V866.0 H679.4 V867.3 H683.3 V870.1 H687.2 V870.3 H691.1 V871.6 H695.0 V873.2 H698.9 V873.2 H702.8 V871.8 H706.7 V873.4 H710.6 V875.0 H714.5 V874.5 H718.4 V877.6 H722.3 V878.4 H726.2 V879.0 H730.1 V878.6 H734.0 V880.6 H737.9 V879.2 H741.8 V880.6 H745.7 V881.9 H749.6 V883.6 H753.5 V883.4 H757.4 V882.9 H761.3 V884.1 H765.2 V884.6 H769.1 V885.2 H773.0 V885.3 H776.9 V886.7 H780.8 V887.5 H784.7 V889.2 H788.6 V889.9 H792.5 V889.6 H796.4 V890.1 H800.3 V891.8 H804.2 V892.8 H808.1 V892.7 H812.0 V893.6 H815.9 V894.3 H819.8 V891.7 H823.7 V894.7 H827.6 V893.1 H831.5 V894.0 H835.4 V895.3 H839.3 V895.3 H843.2 V893.8 H847.1 V895.6 H851.0 V893.8 H854.9 V894.9 H858.8 V896.5 H862.7 V895.4 H866.6 V896.0 H870.5 V896.6 H874.4 V897.0 H878.3 V896.9 H882.2 V894.6 H886.1 V896.1 H890.0 V896.4 H893.9 V895.2 H897.8 V896.9 H901.7 V897.2 H905.6 V897.9 H909.5 V898.3 H913.4 V895.7 H917.3 V896.1 H921.2 V897.0 H925.1 V897.1 H929.0 V897.1 H932.9 V897.1 H936.8 V897.2 H940.7 V897.2 H944.6 V897.3 H948.5 V897.3 H952.4 V897.3 H956.3 V897.4 H960.2 V897.4 H964.1 V897.5 H968.0 V897.5 H971.9 V897.5 H975.8 V897.6 H979.7 V897.6 H983.6 V897.7 H987.5 V897.7 H991.4 V897.7 H995.3 V897.8 H999.2" fill="none" stroke="#34344c" stroke-width="2.1" stroke-opacity="0.85"/>
<path d="M1190.0,897.8 V897.8 H1193.9 V897.4 H1197.8 V897.0 H1201.7 V897.1 H1205.6 V895.1 H1209.5 V895.1 H1213.4 V896.1 H1217.3 V894.6 H1221.2 V896.5 H1225.1 V896.6 H1229.0 V893.8 H1232.9 V895.3 H1236.8 V896.0 H1240.7 V896.3 H1244.6 V893.6 H1248.5 V892.9 H1252.4 V894.8 H1256.3 V894.5 H1260.2 V891.5 H1264.1 V891.3 H1268.0 V891.2 H1271.9 V890.6 H1275.8 V887.5 H1279.7 V888.0 H1283.6 V887.3 H1287.5 V885.3 H1291.4 V882.9 H1295.3 V881.3 H1299.2 V881.1 H1303.1 V882.0 H1307.0 V878.8 H1310.9 V877.9 H1314.8 V878.1 H1318.7 V876.2 H1322.6 V875.5 H1326.5" fill="none" stroke="#34344c" stroke-width="1.8" stroke-opacity="0.8"/>
<rect x="403" y="922.3" width="8" height="2.6" fill="#666"/>
<rect x="459" y="922.3" width="8" height="2.6" fill="#666"/>
<rect x="527" y="922.3" width="8" height="2.6" fill="#666"/>
<rect x="630" y="922.3" width="8" height="2.6" fill="#666"/>
<rect x="420" y="922.8" width="27" height="1.6" fill="#d6d6d6"/>
<rect x="478" y="922.8" width="36" height="1.6" fill="#d6d6d6"/>
<rect x="545" y="922.8" width="70" height="1.6" fill="#d6d6d6"/>
<rect x="648" y="922.8" width="34" height="1.6" fill="#d6d6d6"/>
<text x="268.0" y="296.0" font-size="11" fill="#555" text-anchor="end" textLength="36.0" lengthAdjust="spacingAndGlyphs" stroke="#555" stroke-width="0.2">6,000</text>
<text x="268.0" y="498.0" font-size="11" fill="#555" text-anchor="end" textLength="36.0" lengthAdjust="spacingAndGlyphs" stroke="#555" stroke-width="0.2">4,000</text>
<text x="268.0" y="701.0" font-size="11" fill="#555" text-anchor="end" textLength="36.0" lengthAdjust="spacingAndGlyphs" stroke="#555" stroke-width="0.2">2,000</text>
<text x="268.0" y="903.0" font-size="11" fill="#555" text-anchor="end" stroke="#555" stroke-width="0.2">0</text>
<text x="334.0" y="953.5" font-size="12.5" fill="#5e5e5e" text-anchor="middle" textLength="43.0" lengthAdjust="spacingAndGlyphs" stroke="#5e5e5e" stroke-width="0.2">Sep 20</text>
<text x="450.3" y="953.5" font-size="12.5" fill="#5e5e5e" text-anchor="middle" textLength="43.0" lengthAdjust="spacingAndGlyphs" stroke="#5e5e5e" stroke-width="0.2">Oct 20</text>
<text x="571.0" y="953.5" font-size="12.5" fill="#5e5e5e" text-anchor="middle" textLength="43.0" lengthAdjust="spacingAndGlyphs" stroke="#5e5e5e" stroke-width="0.2">Nov 20</text>
<text x="687.8" y="953.5" font-size="12.5" fill="#5e5e5e" text-anchor="middle" textLength="43.0" lengthAdjust="spacingAndGlyphs" stroke="#5e5e5e" stroke-width="0.2">Dec 20</text>
<text x="807.0" y="953.5" font-size="12.5" fill="#5e5e5e" text-anchor="middle" textLength="43.0" lengthAdjust="spacingAndGlyphs" stroke="#5e5e5e" stroke-width="0.2">Jan 21</text>
<text x="928.0" y="953.5" font-size="12.5" fill="#5e5e5e" text-anchor="middle" textLength="43.0" lengthAdjust="spacingAndGlyphs" stroke="#5e5e5e" stroke-width="0.2">Feb 21</text>
<text x="1037.5" y="953.5" font-size="12.5" fill="#5e5e5e" text-anchor="middle" textLength="43.0" lengthAdjust="spacingAndGlyphs" stroke="#5e5e5e" stroke-width="0.2">Mar 21</text>
<text x="1157.6" y="953.5" font-size="12.5" fill="#5e5e5e" text-anchor="middle" textLength="43.0" lengthAdjust="spacingAndGlyphs" stroke="#5e5e5e" stroke-width="0.2">Apr 21</text>
<text x="1274.5" y="953.5" font-size="12.5" fill="#5e5e5e" text-anchor="middle" textLength="43.0" lengthAdjust="spacingAndGlyphs" stroke="#5e5e5e" stroke-width="0.2">May 21</text>
<text x="1394.5" y="953.5" font-size="12.5" fill="#5e5e5e" text-anchor="middle" textLength="43.0" lengthAdjust="spacingAndGlyphs" stroke="#5e5e5e" stroke-width="0.2">Jun 21</text>
<text x="1512.0" y="953.5" font-size="12.5" fill="#5e5e5e" text-anchor="middle" textLength="43.0" lengthAdjust="spacingAndGlyphs" stroke="#5e5e5e" stroke-width="0.2">Jul 21</text>
<text x="920.5" y="972.0" font-size="16" fill="#333" text-anchor="middle" textLength="35.0" lengthAdjust="spacingAndGlyphs">date</text>
<text x="276.0" y="134.8" font-size="19.5" fill="#222" textLength="300.0" lengthAdjust="spacingAndGlyphs" stroke="#222" stroke-width="0.45">United Kingdom - Deaths (daily)</text>
<text x="632.0" y="1021.5" font-size="16" fill="#333" textLength="49.0" lengthAdjust="spacingAndGlyphs" stroke="#333" stroke-width="0.3">Group</text>
<rect x="692" y="1005" width="24" height="22" fill="#f8e2f1"/>
<line x1="694" y1="1016" x2="714" y2="1016" stroke="#d070aa" stroke-width="4.8"/>
<text x="727.0" y="1021.0" font-size="13" fill="#333" textLength="48.5" lengthAdjust="spacingAndGlyphs" stroke="#333" stroke-width="0.25">Imperial</text>
<rect x="787" y="1005" width="24" height="22" fill="#dcefd4"/>
<line x1="789" y1="1016" x2="809" y2="1016" stroke="#2a6420" stroke-width="4.8"/>
<text x="822.0" y="1021.0" font-size="13" fill="#333" textLength="48.0" lengthAdjust="spacingAndGlyphs" stroke="#333" stroke-width="0.25">LSHTM</text>
<rect x="882" y="1005" width="24" height="22" fill="#eef0fb"/>
<line x1="884" y1="1016" x2="904" y2="1016" stroke="#9a9cdc" stroke-width="4.8"/>
<text x="917.0" y="1021.0" font-size="13" fill="#333" textLength="102.0" lengthAdjust="spacingAndGlyphs" stroke="#333" stroke-width="0.25">PHE/Cambridge</text>
<rect x="1030" y="1005" width="24" height="22" fill="#d2d2d2"/>
<line x1="1032" y1="1016" x2="1052" y2="1016" stroke="#0a0a0a" stroke-width="4.8"/>
<text x="1065.0" y="1021.0" font-size="13" fill="#333" textLength="44.0" lengthAdjust="spacingAndGlyphs" stroke="#333" stroke-width="0.25">RWCS</text>
<rect x="1120" y="1005" width="24" height="22" fill="#f6dcd4"/>
<line x1="1122" y1="1016" x2="1142" y2="1016" stroke="#c9402c" stroke-width="4.8"/>
<text x="1155.0" y="1021.0" font-size="13" fill="#333" textLength="57.0" lengthAdjust="spacingAndGlyphs" stroke="#333" stroke-width="0.25">Warwick</text>
</svg>
<svg class="t" width="1558" height="90" viewBox="0 0 1558 90">
<text x="20.5" y="58.5" font-size="50" fill="#1c1c1c" textLength="272" lengthAdjust="spacingAndGlyphs">Comparison</text>
<text x="322" y="54.8" font-size="50" fill="#1c1c1c" stroke="#1c1c1c" stroke-width="0.5" textLength="29" lengthAdjust="spacingAndGlyphs">&#8211;</text>
<text x="364" y="58.5" font-size="50" fill="#1c1c1c" textLength="281" lengthAdjust="spacingAndGlyphs">Total Deaths</text>
</svg>
</body></html>
